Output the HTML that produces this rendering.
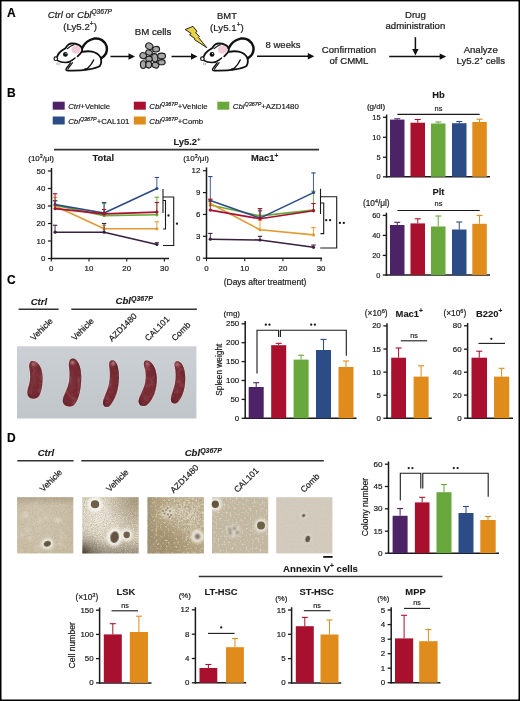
<!DOCTYPE html>
<html><head><meta charset="utf-8"><title>Figure</title>
<style>
html,body{margin:0;padding:0;background:#fff;}
body{width:520px;height:701px;overflow:hidden;}
svg{display:block;font-family:"Liberation Sans",sans-serif;will-change:transform;}
</style></head><body>
<svg width="520" height="701" viewBox="0 0 520 701">

<defs>
<linearGradient id="spg" x1="0" y1="0" x2="0" y2="1"><stop offset="0" stop-color="#d2d6da"/><stop offset="1" stop-color="#bcc1c6"/></linearGradient>
<radialGradient id="splg" cx="0.45" cy="0.5" r="0.6"><stop offset="0" stop-color="#8c5058" stop-opacity="0.35"/><stop offset="0.6" stop-color="#6a2a32" stop-opacity="0"/><stop offset="1" stop-color="#3e1a20" stop-opacity="0.55"/></radialGradient>
<radialGradient id="vig2" cx="0" cy="1" r="0.42"><stop offset="0" stop-color="#2a2418" stop-opacity="0.8"/><stop offset="0.45" stop-color="#2a2418" stop-opacity="0.25"/><stop offset="1" stop-color="#2a2418" stop-opacity="0"/></radialGradient>
<linearGradient id="p2e" x1="0" y1="0" x2="0" y2="1"><stop offset="0.75" stop-color="#3a3020" stop-opacity="0"/><stop offset="1" stop-color="#3a3020" stop-opacity="0.35"/></linearGradient>
<radialGradient id="p2w" cx="0.3" cy="0.35" r="0.55"><stop offset="0" stop-color="#f4f0e8" stop-opacity="0.7"/><stop offset="1" stop-color="#f4f0e8" stop-opacity="0"/></radialGradient>
<radialGradient id="p1c" cx="0.4" cy="0.45" r="0.6"><stop offset="0" stop-color="#d8d0c0" stop-opacity="0.5"/><stop offset="1" stop-color="#d8d0c0" stop-opacity="0"/></radialGradient>
<radialGradient id="p3w" cx="0.72" cy="0.3" r="0.55"><stop offset="0" stop-color="#ece8de" stop-opacity="0.7"/><stop offset="0.6" stop-color="#ece8de" stop-opacity="0.3"/><stop offset="1" stop-color="#ece8de" stop-opacity="0"/></radialGradient>
<radialGradient id="p3d" cx="0.3" cy="0.85" r="0.55"><stop offset="0" stop-color="#7a6440" stop-opacity="0.5"/><stop offset="1" stop-color="#7a6440" stop-opacity="0"/></radialGradient>
<filter id="splN" x="0" y="0" width="1" height="1"><feTurbulence type="fractalNoise" baseFrequency="0.18" numOctaves="2" seed="23"/><feColorMatrix type="matrix" values="0 0 0 0 0.6  0 0 0 0 0.3  0 0 0 0 0.34  3 0 0 0 -1.4"/><feComposite in2="SourceGraphic" operator="in"/></filter>
<filter id="blur07" x="-50%" y="-50%" width="200%" height="200%"><feGaussianBlur stdDeviation="0.7"/></filter>
<filter id="blur03" x="-50%" y="-50%" width="200%" height="200%"><feGaussianBlur stdDeviation="0.4"/></filter>
<linearGradient id="p3l" x1="0" y1="0" x2="1" y2="0"><stop offset="0" stop-color="#8a8068" stop-opacity="0.5"/><stop offset="0.15" stop-color="#8a8068" stop-opacity="0"/></linearGradient>
<radialGradient id="vig2b" cx="0.95" cy="0.05" r="0.55"><stop offset="0" stop-color="#8a7858" stop-opacity="0.55"/><stop offset="1" stop-color="#8a7858" stop-opacity="0"/></radialGradient>
<linearGradient id="topdark" x1="0" y1="0" x2="0" y2="1"><stop offset="0" stop-color="#6a5e48" stop-opacity="0.25"/><stop offset="0.15" stop-color="#6a5e48" stop-opacity="0"/></linearGradient>
<radialGradient id="az" cx="0.8" cy="0.3" r="0.6"><stop offset="0" stop-color="#ece6da" stop-opacity="0.45"/><stop offset="1" stop-color="#ece6da" stop-opacity="0"/></radialGradient>
<filter id="soft" x="-20%" y="-20%" width="140%" height="140%"><feGaussianBlur stdDeviation="0.5"/></filter>
<filter id="blur05" x="-50%" y="-50%" width="200%" height="200%"><feGaussianBlur stdDeviation="0.8"/></filter>
<filter id="blur1" x="-50%" y="-50%" width="200%" height="200%"><feGaussianBlur stdDeviation="1.5"/></filter>
<filter id="speck0"><feTurbulence type="fractalNoise" baseFrequency="0.9" numOctaves="2" seed="3"/><feColorMatrix type="matrix" values="0 0 0 0 0.45  0 0 0 0 0.42  0 0 0 0 0.36  0 0 0 -1.2 0.6"/><feComposite in2="SourceGraphic" operator="in"/></filter>
<filter id="speck1"><feTurbulence type="fractalNoise" baseFrequency="1.2" numOctaves="2" seed="5"/><feColorMatrix type="matrix" values="0 0 0 0 0.3  0 0 0 0 0.28  0 0 0 0 0.22  0 0 0 -3 1.6"/><feComposite in2="SourceGraphic" operator="in"/></filter>
<filter id="speck2"><feTurbulence type="fractalNoise" baseFrequency="1.0" numOctaves="2" seed="7"/><feColorMatrix type="matrix" values="0 0 0 0 0.45  0 0 0 0 0.36  0 0 0 0 0.2  0 0 0 -3 1.6"/><feComposite in2="SourceGraphic" operator="in"/></filter>
<filter id="speck3"><feTurbulence type="fractalNoise" baseFrequency="1.1" numOctaves="2" seed="9"/><feColorMatrix type="matrix" values="0 0 0 0 0.4  0 0 0 0 0.37  0 0 0 0 0.3  0 0 0 -2.5 1.2"/><feComposite in2="SourceGraphic" operator="in"/></filter>
</defs>
<rect x="0" y="0" width="520" height="701" fill="#fff"/>
<text x="7.1" y="16.9" font-size="12" text-anchor="start" font-weight="bold" font-style="normal" fill="#000" stroke="#000" stroke-width="0.144" >A</text>
<text x="79.9" y="18.1" font-size="9.7" text-anchor="middle" font-weight="normal" font-style="normal" fill="#222" stroke="#222" stroke-width="0.233" ><tspan font-style="italic">Ctrl</tspan> or <tspan font-style="italic">Cbl</tspan><tspan font-style="italic" font-size="6.6" dy="-4">Q367P</tspan></text>
<text x="80.1" y="29.6" font-size="9.7" text-anchor="middle" font-weight="normal" font-style="normal" fill="#222" stroke="#222" stroke-width="0.233" >(Ly5.2<tspan font-size="6.6" dy="-3.5">+</tspan><tspan dy="3.5">)</tspan></text>
<text x="153" y="34.5" font-size="9.7" text-anchor="middle" font-weight="normal" font-style="normal" fill="#222" stroke="#222" stroke-width="0.233" >BM cells</text>
<text x="227" y="18.8" font-size="9.4" text-anchor="middle" font-weight="normal" font-style="normal" fill="#222" stroke="#222" stroke-width="0.226" >BMT</text>
<text x="226.9" y="30.8" font-size="9.7" text-anchor="middle" font-weight="normal" font-style="normal" fill="#222" stroke="#222" stroke-width="0.233" >(Ly5.1<tspan font-size="6.6" dy="-3.5">+</tspan><tspan dy="3.5">)</tspan></text>
<text x="283" y="48" font-size="9.5" text-anchor="middle" font-weight="normal" font-style="normal" fill="#222" stroke="#222" stroke-width="0.228" >8 weeks</text>
<text x="349" y="52.8" font-size="9.6" text-anchor="middle" font-weight="normal" font-style="normal" fill="#222" stroke="#222" stroke-width="0.23" >Confirmation</text>
<text x="349" y="64.2" font-size="9.6" text-anchor="middle" font-weight="normal" font-style="normal" fill="#222" stroke="#222" stroke-width="0.23" >of CMML</text>
<text x="415.4" y="18.2" font-size="9.6" text-anchor="middle" font-weight="normal" font-style="normal" fill="#222" stroke="#222" stroke-width="0.23" >Drug</text>
<text x="415.4" y="29.2" font-size="9.6" text-anchor="middle" font-weight="normal" font-style="normal" fill="#222" stroke="#222" stroke-width="0.23" >administration</text>
<text x="480.7" y="52.8" font-size="9.6" text-anchor="middle" font-weight="normal" font-style="normal" fill="#222" stroke="#222" stroke-width="0.23" >Analyze</text>
<text x="480.7" y="63.8" font-size="9.6" text-anchor="middle" font-weight="normal" font-style="normal" fill="#222" stroke="#222" stroke-width="0.23" >Ly5.2<tspan font-size="6" dy="-3.5">+</tspan><tspan dy="3.5"> cells</tspan></text>
<line x1="110.5" y1="56.5" x2="130" y2="56.5" stroke="#111" stroke-width="1.5" />
<path d="M128.5,53.3 L135,56.5 L128.5,59.7 Z" fill="#111" stroke="none" stroke-width="0" />
<line x1="171.5" y1="56.5" x2="192.5" y2="56.5" stroke="#111" stroke-width="1.5" />
<path d="M191.0,53.3 L197.5,56.5 L191.0,59.7 Z" fill="#111" stroke="none" stroke-width="0" />
<line x1="257" y1="56.3" x2="309.3" y2="56.3" stroke="#111" stroke-width="1.5" />
<path d="M307.8,53.099999999999994 L314.3,56.3 L307.8,59.5 Z" fill="#111" stroke="none" stroke-width="0" />
<line x1="389.2" y1="56.6" x2="441.2" y2="56.6" stroke="#111" stroke-width="1.5" />
<path d="M439.7,53.4 L446.2,56.6 L439.7,59.800000000000004 Z" fill="#111" stroke="none" stroke-width="0" />
<line x1="415.4" y1="37.2" x2="415.4" y2="50" stroke="#111" stroke-width="1.5" />
<path d="M412.2,49 L415.4,55.6 L418.6,49 Z" fill="#111" stroke="none" stroke-width="0" />
<g transform="translate(50,34)">
<path d="M5.8,23 C8,20 10,17.5 12,16.5 C14,15.5 15,15 16,13.5 C18,10.5 20.5,9.4 23,9.4 C27,9.5 30.5,11.5 31.8,14.5 L32.2,17.8 C36,17.2 40,17.2 42,17.6 C46,18.5 49,20.5 50.6,23.5 C51.6,26.5 51.4,29.5 49.9,31.9 C47,33.8 42,34.8 38.5,35.4 C34,36.2 26,36.9 18.2,36.6 C16.5,36.6 15.5,36 16,35 C17,33 19,31 20.6,28.9 C18,28.8 13,28.9 9.5,27.8 C7,27 5.3,25.5 5.8,23 Z" fill="#fff" stroke="none"/>
<path d="M32.2,14.1 C34,10 38,6 44,4.6 C50,3.5 55,7 56.7,12.5 C57.6,17 55.5,21.5 51.3,24.3" fill="none" stroke="#111" stroke-width="2.5" stroke-linecap="round"/>
<ellipse cx="26" cy="15.6" rx="4.6" ry="4" fill="#f0cad8"/>
<path d="M7.2,22.3 C8,20.5 9.5,18.3 11.5,16.8 C12.8,15.8 14,15.3 15.5,14.2 C16.5,12.5 17.5,11.2 18.9,10.3 C20,9.6 21,9.4 22.1,9.5 C24,9.4 26.5,9.9 28.7,10.9 C30,11.6 31,12.5 31.6,13.5 C32.3,14.8 32.4,16.5 31.6,17.8 C30.8,19.3 29.5,20.6 27.6,22.3" fill="none" stroke="#111" stroke-width="1.8" stroke-linecap="round" stroke-linejoin="round"/>
<path d="M17.5,14.7 C19.5,12.8 21.5,11.5 23.8,10.8" fill="none" stroke="#111" stroke-width="1.1" stroke-linecap="round"/>
<path d="M32.2,17.8 C36,17.2 40,17.2 42,17.6 C46,18.5 49,20.5 50.6,23.5 C51.6,26.5 51.4,29.5 49.9,31.9 C47,33.8 42,34.8 38.5,35.4 C34,36.2 26,36.9 18.2,36.6" fill="none" stroke="#111" stroke-width="1.8" stroke-linecap="round" stroke-linejoin="round"/>
<path d="M7.2,26.4 C9,27.5 12,28.5 15.4,28.6 C18,28.5 21,27.3 22.6,25.9 L25,24" fill="none" stroke="#111" stroke-width="1.5" stroke-linecap="round"/>
<path d="M20.6,28.9 C19,31 17,33.2 16,35 C15.6,36.2 16.6,36.8 18.2,36.6" fill="none" stroke="#111" stroke-width="1.4" stroke-linecap="round"/>
<path d="M22.6,28.7 C21,30.8 19,33.2 17.8,35.3" fill="none" stroke="#111" stroke-width="1.1" stroke-linecap="round"/>
<path d="M43.6,26 C42.3,29 40.3,31.6 38.6,33.2 C37.6,34.3 36.6,35.3 35.6,36" fill="none" stroke="#111" stroke-width="1.4" stroke-linecap="round"/>
<path d="M34,35.4 C35,34.2 36.5,34.2 37,35.2" fill="none" stroke="#111" stroke-width="1"/>
<circle cx="15.4" cy="20.4" r="2.4" fill="#111"/>
<circle cx="16" cy="19.6" r="0.6" fill="#fff"/>
<circle cx="5.8" cy="24.7" r="1.8" fill="#fff" stroke="#111" stroke-width="1.2"/>
<path d="M7.2,28.3 L7,31 M9,28.8 L9,31.2" stroke="#777" stroke-width="0.6"/>
</g>
<g transform="translate(196.6,34)">
<path d="M5.8,23 C8,20 10,17.5 12,16.5 C14,15.5 15,15 16,13.5 C18,10.5 20.5,9.4 23,9.4 C27,9.5 30.5,11.5 31.8,14.5 L32.2,17.8 C36,17.2 40,17.2 42,17.6 C46,18.5 49,20.5 50.6,23.5 C51.6,26.5 51.4,29.5 49.9,31.9 C47,33.8 42,34.8 38.5,35.4 C34,36.2 26,36.9 18.2,36.6 C16.5,36.6 15.5,36 16,35 C17,33 19,31 20.6,28.9 C18,28.8 13,28.9 9.5,27.8 C7,27 5.3,25.5 5.8,23 Z" fill="#fff" stroke="none"/>
<path d="M32.2,14.1 C34,10 38,6 44,4.6 C50,3.5 55,7 56.7,12.5 C57.6,17 55.5,21.5 51.3,24.3" fill="none" stroke="#111" stroke-width="2.5" stroke-linecap="round"/>
<ellipse cx="26" cy="15.6" rx="4.6" ry="4" fill="#f0cad8"/>
<path d="M7.2,22.3 C8,20.5 9.5,18.3 11.5,16.8 C12.8,15.8 14,15.3 15.5,14.2 C16.5,12.5 17.5,11.2 18.9,10.3 C20,9.6 21,9.4 22.1,9.5 C24,9.4 26.5,9.9 28.7,10.9 C30,11.6 31,12.5 31.6,13.5 C32.3,14.8 32.4,16.5 31.6,17.8 C30.8,19.3 29.5,20.6 27.6,22.3" fill="none" stroke="#111" stroke-width="1.8" stroke-linecap="round" stroke-linejoin="round"/>
<path d="M17.5,14.7 C19.5,12.8 21.5,11.5 23.8,10.8" fill="none" stroke="#111" stroke-width="1.1" stroke-linecap="round"/>
<path d="M32.2,17.8 C36,17.2 40,17.2 42,17.6 C46,18.5 49,20.5 50.6,23.5 C51.6,26.5 51.4,29.5 49.9,31.9 C47,33.8 42,34.8 38.5,35.4 C34,36.2 26,36.9 18.2,36.6" fill="none" stroke="#111" stroke-width="1.8" stroke-linecap="round" stroke-linejoin="round"/>
<path d="M7.2,26.4 C9,27.5 12,28.5 15.4,28.6 C18,28.5 21,27.3 22.6,25.9 L25,24" fill="none" stroke="#111" stroke-width="1.5" stroke-linecap="round"/>
<path d="M20.6,28.9 C19,31 17,33.2 16,35 C15.6,36.2 16.6,36.8 18.2,36.6" fill="none" stroke="#111" stroke-width="1.4" stroke-linecap="round"/>
<path d="M22.6,28.7 C21,30.8 19,33.2 17.8,35.3" fill="none" stroke="#111" stroke-width="1.1" stroke-linecap="round"/>
<path d="M43.6,26 C42.3,29 40.3,31.6 38.6,33.2 C37.6,34.3 36.6,35.3 35.6,36" fill="none" stroke="#111" stroke-width="1.4" stroke-linecap="round"/>
<path d="M34,35.4 C35,34.2 36.5,34.2 37,35.2" fill="none" stroke="#111" stroke-width="1"/>
<circle cx="15.4" cy="20.4" r="2.4" fill="#111"/>
<circle cx="16" cy="19.6" r="0.6" fill="#fff"/>
<circle cx="5.8" cy="24.7" r="1.8" fill="#fff" stroke="#111" stroke-width="1.2"/>
<path d="M7.2,28.3 L7,31 M9,28.8 L9,31.2" stroke="#777" stroke-width="0.6"/>
</g>
<path d="M185.2,29.5 L193,26.3 L197,31.5 L195.6,32.4 L199.3,36.4 L198.4,37.3 L206.8,47.7 L194.4,39.6 L195,38.7 L189.5,34.7 L191.2,33.5 Z" fill="#e8d24a" stroke="#111" stroke-width="0.9" stroke-linejoin="miter"/>
<ellipse cx="149.3" cy="46.2" rx="3.7" ry="3.1" transform="rotate(30 149.3 46.2)" fill="#a6a6a6" stroke="#1a1a1a" stroke-width="1.1"/>
<ellipse cx="156.1" cy="49.2" rx="3.5" ry="2.8" transform="rotate(-10 156.1 49.2)" fill="#a6a6a6" stroke="#1a1a1a" stroke-width="1.1"/>
<ellipse cx="149" cy="52.6" rx="3.4" ry="2.6" transform="rotate(20 149 52.6)" fill="#a6a6a6" stroke="#1a1a1a" stroke-width="1.1"/>
<ellipse cx="143.2" cy="55.7" rx="3.3" ry="3" transform="rotate(30 143.2 55.7)" fill="#a6a6a6" stroke="#1a1a1a" stroke-width="1.1"/>
<ellipse cx="154.8" cy="57.8" rx="3" ry="4.2" transform="rotate(-10 154.8 57.8)" fill="#a6a6a6" stroke="#1a1a1a" stroke-width="1.1"/>
<ellipse cx="161.6" cy="56" rx="3.9" ry="2.9" transform="rotate(0 161.6 56)" fill="#a6a6a6" stroke="#1a1a1a" stroke-width="1.1"/>
<ellipse cx="149" cy="59.1" rx="3.2" ry="2.8" transform="rotate(0 149 59.1)" fill="#a6a6a6" stroke="#1a1a1a" stroke-width="1.1"/>
<ellipse cx="143.2" cy="64.6" rx="2.8" ry="3.9" transform="rotate(0 143.2 64.6)" fill="#a6a6a6" stroke="#1a1a1a" stroke-width="1.1"/>
<ellipse cx="148.7" cy="64.6" rx="2.9" ry="3.5" transform="rotate(0 148.7 64.6)" fill="#a6a6a6" stroke="#1a1a1a" stroke-width="1.1"/>
<ellipse cx="155.5" cy="65.2" rx="3.4" ry="2.8" transform="rotate(20 155.5 65.2)" fill="#a6a6a6" stroke="#1a1a1a" stroke-width="1.1"/>
<ellipse cx="161.6" cy="62.2" rx="3.6" ry="2.6" transform="rotate(0 161.6 62.2)" fill="#a6a6a6" stroke="#1a1a1a" stroke-width="1.1"/>
<text x="7.1" y="97.4" font-size="12" text-anchor="start" font-weight="bold" font-style="normal" fill="#000" stroke="#000" stroke-width="0.144" >B</text>
<rect x="52.7" y="101.7" width="12" height="8" fill="#4e2266" />
<text x="68.2" y="108.9" font-size="7.8" text-anchor="start" font-weight="normal" font-style="normal" fill="#1a1a1a" stroke="#1a1a1a" stroke-width="0.187" ><tspan font-style="italic">Ctrl</tspan>+Vehicle</text>
<rect x="133.8" y="101.7" width="12" height="8" fill="#a8102e" />
<text x="149.3" y="108.9" font-size="7.8" text-anchor="start" font-weight="normal" font-style="normal" fill="#1a1a1a" stroke="#1a1a1a" stroke-width="0.187" ><tspan font-style="italic">Cbl</tspan><tspan font-style="italic" font-size="5.4" dy="-3">Q367P</tspan><tspan dy="3">+Vehicle</tspan></text>
<rect x="217.3" y="101.7" width="12" height="8" fill="#68a83c" />
<text x="232.8" y="108.9" font-size="7.8" text-anchor="start" font-weight="normal" font-style="normal" fill="#1a1a1a" stroke="#1a1a1a" stroke-width="0.187" ><tspan font-style="italic">Cbl</tspan><tspan font-style="italic" font-size="5.4" dy="-3">Q367P</tspan><tspan dy="3">+AZD1480</tspan></text>
<rect x="52.7" y="116.5" width="12" height="8" fill="#2b4c84" />
<text x="68.2" y="123.7" font-size="7.8" text-anchor="start" font-weight="normal" font-style="normal" fill="#1a1a1a" stroke="#1a1a1a" stroke-width="0.187" ><tspan font-style="italic">Cbl</tspan><tspan font-style="italic" font-size="5.4" dy="-3">Q367P</tspan><tspan dy="3">+CAL101</tspan></text>
<rect x="133.8" y="116.5" width="12" height="8" fill="#e08c1c" />
<text x="149.3" y="123.7" font-size="7.8" text-anchor="start" font-weight="normal" font-style="normal" fill="#1a1a1a" stroke="#1a1a1a" stroke-width="0.187" ><tspan font-style="italic">Cbl</tspan><tspan font-style="italic" font-size="5.4" dy="-3">Q367P</tspan><tspan dy="3">+Comb</tspan></text>
<text x="187" y="144.6" font-size="9.4" text-anchor="middle" font-weight="bold" font-style="normal" fill="#1a1a1a" stroke="#1a1a1a" stroke-width="0.113" >Ly5.2<tspan font-size="6" dy="-3.5">+</tspan></text>
<line x1="54" y1="149.7" x2="319" y2="149.7" stroke="#333" stroke-width="1.8" />
<text x="103.3" y="161" font-size="9.4" text-anchor="middle" font-weight="bold" font-style="normal" fill="#1a1a1a" stroke="#1a1a1a" stroke-width="0.113" >Total</text>
<text x="264.6" y="161" font-size="9.4" text-anchor="middle" font-weight="bold" font-style="normal" fill="#1a1a1a" stroke="#1a1a1a" stroke-width="0.113" >Mac1<tspan font-size="6.6" dy="-3.5">+</tspan></text>
<text x="41.1" y="161.3" font-size="8" text-anchor="middle" font-weight="normal" font-style="normal" fill="#1a1a1a" stroke="#1a1a1a" stroke-width="0.192" >(10<tspan font-size="5.2" dy="-3">3</tspan><tspan dy="3">/μl)</tspan></text>
<text x="196" y="161.3" font-size="8" text-anchor="middle" font-weight="normal" font-style="normal" fill="#1a1a1a" stroke="#1a1a1a" stroke-width="0.192" >(10<tspan font-size="5.2" dy="-3">3</tspan><tspan dy="3">/μl)</tspan></text>
<line x1="51.5" y1="168" x2="51.5" y2="259.2" stroke="#1a1a1a" stroke-width="1.5" />
<line x1="50.8" y1="258.5" x2="169" y2="258.5" stroke="#1a1a1a" stroke-width="1.5" />
<line x1="47.9" y1="258.5" x2="51.5" y2="258.5" stroke="#1a1a1a" stroke-width="1.2" />
<text x="45.3" y="261.2" font-size="7.9" text-anchor="end" font-weight="normal" font-style="normal" fill="#1a1a1a" stroke="#1a1a1a" stroke-width="0.19" >0</text>
<line x1="47.9" y1="241.0" x2="51.5" y2="241.0" stroke="#1a1a1a" stroke-width="1.2" />
<text x="45.3" y="243.7" font-size="7.9" text-anchor="end" font-weight="normal" font-style="normal" fill="#1a1a1a" stroke="#1a1a1a" stroke-width="0.19" >10</text>
<line x1="47.9" y1="223.5" x2="51.5" y2="223.5" stroke="#1a1a1a" stroke-width="1.2" />
<text x="45.3" y="226.2" font-size="7.9" text-anchor="end" font-weight="normal" font-style="normal" fill="#1a1a1a" stroke="#1a1a1a" stroke-width="0.19" >20</text>
<line x1="47.9" y1="206.0" x2="51.5" y2="206.0" stroke="#1a1a1a" stroke-width="1.2" />
<text x="45.3" y="208.7" font-size="7.9" text-anchor="end" font-weight="normal" font-style="normal" fill="#1a1a1a" stroke="#1a1a1a" stroke-width="0.19" >30</text>
<line x1="47.9" y1="188.5" x2="51.5" y2="188.5" stroke="#1a1a1a" stroke-width="1.2" />
<text x="45.3" y="191.2" font-size="7.9" text-anchor="end" font-weight="normal" font-style="normal" fill="#1a1a1a" stroke="#1a1a1a" stroke-width="0.19" >40</text>
<line x1="47.9" y1="171.0" x2="51.5" y2="171.0" stroke="#1a1a1a" stroke-width="1.2" />
<text x="45.3" y="173.7" font-size="7.9" text-anchor="end" font-weight="normal" font-style="normal" fill="#1a1a1a" stroke="#1a1a1a" stroke-width="0.19" >50</text>
<line x1="51.3" y1="258.5" x2="51.3" y2="261.5" stroke="#1a1a1a" stroke-width="1.1" />
<text x="51.3" y="271.4" font-size="7.9" text-anchor="middle" font-weight="normal" font-style="normal" fill="#1a1a1a" stroke="#1a1a1a" stroke-width="0.19" >0</text>
<line x1="89.0" y1="258.5" x2="89.0" y2="261.5" stroke="#1a1a1a" stroke-width="1.1" />
<text x="89.0" y="271.4" font-size="7.9" text-anchor="middle" font-weight="normal" font-style="normal" fill="#1a1a1a" stroke="#1a1a1a" stroke-width="0.19" >10</text>
<line x1="126.7" y1="258.5" x2="126.7" y2="261.5" stroke="#1a1a1a" stroke-width="1.1" />
<text x="126.7" y="271.4" font-size="7.9" text-anchor="middle" font-weight="normal" font-style="normal" fill="#1a1a1a" stroke="#1a1a1a" stroke-width="0.19" >20</text>
<line x1="164.39999999999998" y1="258.5" x2="164.39999999999998" y2="261.5" stroke="#1a1a1a" stroke-width="1.1" />
<text x="164.39999999999998" y="271.4" font-size="7.9" text-anchor="middle" font-weight="normal" font-style="normal" fill="#1a1a1a" stroke="#1a1a1a" stroke-width="0.19" >30</text>
<line x1="55.07" y1="200.75" x2="55.07" y2="205.125" stroke="#68a83c" stroke-width="0.9" />
<line x1="52.87" y1="200.75" x2="57.27" y2="200.75" stroke="#68a83c" stroke-width="1.1" />
<line x1="104.08" y1="203.375" x2="104.08" y2="215.625" stroke="#68a83c" stroke-width="0.9" />
<line x1="101.88" y1="203.375" x2="106.28" y2="203.375" stroke="#68a83c" stroke-width="1.1" />
<line x1="156.86" y1="197.25" x2="156.86" y2="214.75" stroke="#68a83c" stroke-width="0.9" />
<line x1="154.66000000000003" y1="197.25" x2="159.06" y2="197.25" stroke="#68a83c" stroke-width="1.1" />
<path d="M55.1,205.1 L104.1,215.6 L156.9,214.8" fill="none" stroke="#68a83c" stroke-width="1.6" stroke-linejoin="round"/>
<circle cx="55.1" cy="205.1" r="1.6" fill="#68a83c"/>
<circle cx="104.1" cy="215.6" r="1.6" fill="#68a83c"/>
<circle cx="156.9" cy="214.8" r="1.6" fill="#68a83c"/>
<line x1="55.07" y1="197.25" x2="55.07" y2="206.0" stroke="#e39a30" stroke-width="0.9" />
<line x1="52.87" y1="197.25" x2="57.27" y2="197.25" stroke="#e39a30" stroke-width="1.1" />
<line x1="104.08" y1="225.25" x2="104.08" y2="228.75" stroke="#e39a30" stroke-width="0.9" />
<line x1="101.88" y1="225.25" x2="106.28" y2="225.25" stroke="#e39a30" stroke-width="1.1" />
<line x1="156.86" y1="221.75" x2="156.86" y2="228.75" stroke="#e39a30" stroke-width="0.9" />
<line x1="154.66000000000003" y1="221.75" x2="159.06" y2="221.75" stroke="#e39a30" stroke-width="1.1" />
<path d="M55.1,206.0 L104.1,228.8 L156.9,228.8" fill="none" stroke="#e39a30" stroke-width="1.6" stroke-linejoin="round"/>
<circle cx="55.1" cy="206.0" r="1.6" fill="#e39a30"/>
<circle cx="104.1" cy="228.8" r="1.6" fill="#e39a30"/>
<circle cx="156.9" cy="228.8" r="1.6" fill="#e39a30"/>
<line x1="55.07" y1="200.75" x2="55.07" y2="204.6" stroke="#2b4c84" stroke-width="0.9" />
<line x1="52.87" y1="200.75" x2="57.27" y2="200.75" stroke="#2b4c84" stroke-width="1.1" />
<line x1="104.08" y1="202.5" x2="104.08" y2="213.0" stroke="#2b4c84" stroke-width="0.9" />
<line x1="101.88" y1="202.5" x2="106.28" y2="202.5" stroke="#2b4c84" stroke-width="1.1" />
<line x1="156.86" y1="177.47500000000002" x2="156.86" y2="188.5" stroke="#2b4c84" stroke-width="0.9" />
<line x1="154.66000000000003" y1="177.47500000000002" x2="159.06" y2="177.47500000000002" stroke="#2b4c84" stroke-width="1.1" />
<path d="M55.1,204.6 L104.1,213.0 L156.9,188.5" fill="none" stroke="#2b4c84" stroke-width="1.6" stroke-linejoin="round"/>
<circle cx="55.1" cy="204.6" r="1.6" fill="#2b4c84"/>
<circle cx="104.1" cy="213.0" r="1.6" fill="#2b4c84"/>
<circle cx="156.9" cy="188.5" r="1.6" fill="#2b4c84"/>
<line x1="55.07" y1="193.75" x2="55.07" y2="208.625" stroke="#a8102e" stroke-width="0.9" />
<line x1="52.87" y1="193.75" x2="57.27" y2="193.75" stroke="#a8102e" stroke-width="1.1" />
<line x1="104.08" y1="209.5" x2="104.08" y2="213.875" stroke="#a8102e" stroke-width="0.9" />
<line x1="101.88" y1="209.5" x2="106.28" y2="209.5" stroke="#a8102e" stroke-width="1.1" />
<line x1="156.86" y1="202.5" x2="156.86" y2="212.125" stroke="#a8102e" stroke-width="0.9" />
<line x1="154.66000000000003" y1="202.5" x2="159.06" y2="202.5" stroke="#a8102e" stroke-width="1.1" />
<path d="M55.1,208.6 L104.1,213.9 L156.9,212.1" fill="none" stroke="#a8102e" stroke-width="1.6" stroke-linejoin="round"/>
<circle cx="55.1" cy="208.6" r="1.6" fill="#a8102e"/>
<circle cx="104.1" cy="213.9" r="1.6" fill="#a8102e"/>
<circle cx="156.9" cy="212.1" r="1.6" fill="#a8102e"/>
<line x1="55.07" y1="225.25" x2="55.07" y2="232.25" stroke="#38203f" stroke-width="0.9" />
<line x1="52.87" y1="225.25" x2="57.27" y2="225.25" stroke="#38203f" stroke-width="1.1" />
<line x1="104.08" y1="223.5" x2="104.08" y2="232.25" stroke="#38203f" stroke-width="0.9" />
<line x1="101.88" y1="223.5" x2="106.28" y2="223.5" stroke="#38203f" stroke-width="1.1" />
<line x1="156.86" y1="242.75" x2="156.86" y2="244.5" stroke="#38203f" stroke-width="0.9" />
<line x1="154.66000000000003" y1="242.75" x2="159.06" y2="242.75" stroke="#38203f" stroke-width="1.1" />
<path d="M55.1,232.2 L104.1,232.2 L156.9,244.5" fill="none" stroke="#38203f" stroke-width="1.6" stroke-linejoin="round"/>
<circle cx="55.1" cy="232.2" r="1.6" fill="#38203f"/>
<circle cx="104.1" cy="232.2" r="1.6" fill="#38203f"/>
<circle cx="156.9" cy="244.5" r="1.6" fill="#38203f"/>
<line x1="163" y1="189" x2="163" y2="213" stroke="#1a1a1a" stroke-width="1.1" />
<path d="M163,200.5 L165.5,200.5 L165.5,229 L163,229" fill="none" stroke="#1a1a1a" stroke-width="1.1" />
<path d="M163,197 L173.7,197 L173.7,245.5 L163,245.5" fill="none" stroke="#1a1a1a" stroke-width="1.1" />
<circle cx="168.5" cy="215.5" r="1.15" fill="#1a1a1a"/>
<circle cx="177" cy="223.7" r="1.15" fill="#1a1a1a"/>
<line x1="206.5" y1="167.4" x2="206.5" y2="258.9" stroke="#1a1a1a" stroke-width="1.5" />
<line x1="205.8" y1="258.2" x2="322" y2="258.2" stroke="#1a1a1a" stroke-width="1.5" />
<line x1="202.9" y1="258.2" x2="206.5" y2="258.2" stroke="#1a1a1a" stroke-width="1.2" />
<text x="200.3" y="260.9" font-size="7.9" text-anchor="end" font-weight="normal" font-style="normal" fill="#1a1a1a" stroke="#1a1a1a" stroke-width="0.19" >0</text>
<line x1="202.9" y1="236.32999999999998" x2="206.5" y2="236.32999999999998" stroke="#1a1a1a" stroke-width="1.2" />
<text x="200.3" y="239.02999999999997" font-size="7.9" text-anchor="end" font-weight="normal" font-style="normal" fill="#1a1a1a" stroke="#1a1a1a" stroke-width="0.19" >3</text>
<line x1="202.9" y1="214.45999999999998" x2="206.5" y2="214.45999999999998" stroke="#1a1a1a" stroke-width="1.2" />
<text x="200.3" y="217.15999999999997" font-size="7.9" text-anchor="end" font-weight="normal" font-style="normal" fill="#1a1a1a" stroke="#1a1a1a" stroke-width="0.19" >6</text>
<line x1="202.9" y1="192.58999999999997" x2="206.5" y2="192.58999999999997" stroke="#1a1a1a" stroke-width="1.2" />
<text x="200.3" y="195.28999999999996" font-size="7.9" text-anchor="end" font-weight="normal" font-style="normal" fill="#1a1a1a" stroke="#1a1a1a" stroke-width="0.19" >9</text>
<line x1="202.9" y1="170.71999999999997" x2="206.5" y2="170.71999999999997" stroke="#1a1a1a" stroke-width="1.2" />
<text x="200.3" y="173.41999999999996" font-size="7.9" text-anchor="end" font-weight="normal" font-style="normal" fill="#1a1a1a" stroke="#1a1a1a" stroke-width="0.19" >12</text>
<line x1="206.5" y1="258.2" x2="206.5" y2="261.2" stroke="#1a1a1a" stroke-width="1.1" />
<text x="206.5" y="271.09999999999997" font-size="7.9" text-anchor="middle" font-weight="normal" font-style="normal" fill="#1a1a1a" stroke="#1a1a1a" stroke-width="0.19" >0</text>
<line x1="244.7" y1="258.2" x2="244.7" y2="261.2" stroke="#1a1a1a" stroke-width="1.1" />
<text x="244.7" y="271.09999999999997" font-size="7.9" text-anchor="middle" font-weight="normal" font-style="normal" fill="#1a1a1a" stroke="#1a1a1a" stroke-width="0.19" >10</text>
<line x1="282.9" y1="258.2" x2="282.9" y2="261.2" stroke="#1a1a1a" stroke-width="1.1" />
<text x="282.9" y="271.09999999999997" font-size="7.9" text-anchor="middle" font-weight="normal" font-style="normal" fill="#1a1a1a" stroke="#1a1a1a" stroke-width="0.19" >20</text>
<line x1="321.1" y1="258.2" x2="321.1" y2="261.2" stroke="#1a1a1a" stroke-width="1.1" />
<text x="321.1" y="271.09999999999997" font-size="7.9" text-anchor="middle" font-weight="normal" font-style="normal" fill="#1a1a1a" stroke="#1a1a1a" stroke-width="0.19" >30</text>
<line x1="210.32" y1="201.338" x2="210.32" y2="204.983" stroke="#68a83c" stroke-width="0.9" />
<line x1="208.12" y1="201.338" x2="212.51999999999998" y2="201.338" stroke="#68a83c" stroke-width="1.1" />
<line x1="259.98" y1="208.628" x2="259.98" y2="215.918" stroke="#68a83c" stroke-width="0.9" />
<line x1="257.78000000000003" y1="208.628" x2="262.18" y2="208.628" stroke="#68a83c" stroke-width="1.1" />
<line x1="313.46" y1="191.132" x2="313.46" y2="210.08599999999998" stroke="#68a83c" stroke-width="0.9" />
<line x1="311.26" y1="191.132" x2="315.65999999999997" y2="191.132" stroke="#68a83c" stroke-width="1.1" />
<path d="M210.3,205.0 L260.0,215.9 L313.5,210.1" fill="none" stroke="#68a83c" stroke-width="1.6" stroke-linejoin="round"/>
<circle cx="210.3" cy="205.0" r="1.6" fill="#68a83c"/>
<circle cx="260.0" cy="215.9" r="1.6" fill="#68a83c"/>
<circle cx="313.5" cy="210.1" r="1.6" fill="#68a83c"/>
<line x1="210.32" y1="199.88" x2="210.32" y2="203.52499999999998" stroke="#e39a30" stroke-width="0.9" />
<line x1="208.12" y1="199.88" x2="212.51999999999998" y2="199.88" stroke="#e39a30" stroke-width="1.1" />
<line x1="259.98" y1="220.29199999999997" x2="259.98" y2="229.76899999999998" stroke="#e39a30" stroke-width="0.9" />
<line x1="257.78000000000003" y1="220.29199999999997" x2="262.18" y2="220.29199999999997" stroke="#e39a30" stroke-width="1.1" />
<line x1="313.46" y1="227.582" x2="313.46" y2="234.87199999999999" stroke="#e39a30" stroke-width="0.9" />
<line x1="311.26" y1="227.582" x2="315.65999999999997" y2="227.582" stroke="#e39a30" stroke-width="1.1" />
<path d="M210.3,203.5 L260.0,229.8 L313.5,234.9" fill="none" stroke="#e39a30" stroke-width="1.6" stroke-linejoin="round"/>
<circle cx="210.3" cy="203.5" r="1.6" fill="#e39a30"/>
<circle cx="260.0" cy="229.8" r="1.6" fill="#e39a30"/>
<circle cx="313.5" cy="234.9" r="1.6" fill="#e39a30"/>
<line x1="210.32" y1="176.552" x2="210.32" y2="200.60899999999998" stroke="#2b4c84" stroke-width="0.9" />
<line x1="208.12" y1="176.552" x2="212.51999999999998" y2="176.552" stroke="#2b4c84" stroke-width="1.1" />
<line x1="259.98" y1="210.815" x2="259.98" y2="218.105" stroke="#2b4c84" stroke-width="0.9" />
<line x1="257.78000000000003" y1="210.815" x2="262.18" y2="210.815" stroke="#2b4c84" stroke-width="1.1" />
<line x1="313.46" y1="172.90699999999998" x2="313.46" y2="192.58999999999997" stroke="#2b4c84" stroke-width="0.9" />
<line x1="311.26" y1="172.90699999999998" x2="315.65999999999997" y2="172.90699999999998" stroke="#2b4c84" stroke-width="1.1" />
<path d="M210.3,200.6 L260.0,218.1 L313.5,192.6" fill="none" stroke="#2b4c84" stroke-width="1.6" stroke-linejoin="round"/>
<circle cx="210.3" cy="200.6" r="1.6" fill="#2b4c84"/>
<circle cx="260.0" cy="218.1" r="1.6" fill="#2b4c84"/>
<circle cx="313.5" cy="192.6" r="1.6" fill="#2b4c84"/>
<line x1="210.32" y1="199.15099999999998" x2="210.32" y2="210.08599999999998" stroke="#a8102e" stroke-width="0.9" />
<line x1="208.12" y1="199.15099999999998" x2="212.51999999999998" y2="199.15099999999998" stroke="#a8102e" stroke-width="1.1" />
<line x1="259.98" y1="208.628" x2="259.98" y2="218.834" stroke="#a8102e" stroke-width="0.9" />
<line x1="257.78000000000003" y1="208.628" x2="262.18" y2="208.628" stroke="#a8102e" stroke-width="1.1" />
<line x1="313.46" y1="203.52499999999998" x2="313.46" y2="210.815" stroke="#a8102e" stroke-width="0.9" />
<line x1="311.26" y1="203.52499999999998" x2="315.65999999999997" y2="203.52499999999998" stroke="#a8102e" stroke-width="1.1" />
<path d="M210.3,210.1 L260.0,218.8 L313.5,210.8" fill="none" stroke="#a8102e" stroke-width="1.6" stroke-linejoin="round"/>
<circle cx="210.3" cy="210.1" r="1.6" fill="#a8102e"/>
<circle cx="260.0" cy="218.8" r="1.6" fill="#a8102e"/>
<circle cx="313.5" cy="210.8" r="1.6" fill="#a8102e"/>
<line x1="210.32" y1="233.414" x2="210.32" y2="239.24599999999998" stroke="#38203f" stroke-width="0.9" />
<line x1="208.12" y1="233.414" x2="212.51999999999998" y2="233.414" stroke="#38203f" stroke-width="1.1" />
<line x1="259.98" y1="236.32999999999998" x2="259.98" y2="239.975" stroke="#38203f" stroke-width="0.9" />
<line x1="257.78000000000003" y1="236.32999999999998" x2="262.18" y2="236.32999999999998" stroke="#38203f" stroke-width="1.1" />
<line x1="313.46" y1="245.07799999999997" x2="313.46" y2="247.265" stroke="#38203f" stroke-width="0.9" />
<line x1="311.26" y1="245.07799999999997" x2="315.65999999999997" y2="245.07799999999997" stroke="#38203f" stroke-width="1.1" />
<path d="M210.3,239.2 L260.0,240.0 L313.5,247.3" fill="none" stroke="#38203f" stroke-width="1.6" stroke-linejoin="round"/>
<circle cx="210.3" cy="239.2" r="1.6" fill="#38203f"/>
<circle cx="260.0" cy="240.0" r="1.6" fill="#38203f"/>
<circle cx="313.5" cy="247.3" r="1.6" fill="#38203f"/>
<line x1="320.5" y1="188.7" x2="320.5" y2="214" stroke="#1a1a1a" stroke-width="1.1" />
<path d="M320.5,203 L323.7,203 L323.7,233.6 L320.5,233.6" fill="none" stroke="#1a1a1a" stroke-width="1.1" />
<path d="M320.5,196.7 L336.7,196.7 L336.7,248 L320.2,248" fill="none" stroke="#1a1a1a" stroke-width="1.1" />
<circle cx="326.2" cy="220.2" r="1.15" fill="#1a1a1a"/>
<circle cx="330.1" cy="220.2" r="1.15" fill="#1a1a1a"/>
<circle cx="339.9" cy="222.9" r="1.15" fill="#1a1a1a"/>
<circle cx="343.8" cy="222.9" r="1.15" fill="#1a1a1a"/>
<text x="265" y="284.8" font-size="8.5" text-anchor="middle" font-weight="normal" font-style="normal" fill="#1a1a1a" stroke="#1a1a1a" stroke-width="0.204" >(Days after treatment)</text>
<text x="438.5" y="98.2" font-size="9.4" text-anchor="middle" font-weight="bold" font-style="normal" fill="#1a1a1a" stroke="#1a1a1a" stroke-width="0.113" >Hb</text>
<text x="376" y="109.2" font-size="8" text-anchor="middle" font-weight="normal" font-style="normal" fill="#1a1a1a" stroke="#1a1a1a" stroke-width="0.192" >(g/dl)</text>
<line x1="397.4" y1="114.4" x2="479.7" y2="114.4" stroke="#1a1a1a" stroke-width="1.1" />
<text x="438.5" y="110.8" font-size="7.4" text-anchor="middle" font-weight="normal" font-style="normal" fill="#1a1a1a" stroke="#1a1a1a" stroke-width="0.178" >ns</text>
<line x1="386.6" y1="114.6" x2="386.6" y2="177.5" stroke="#1a1a1a" stroke-width="1.5" />
<line x1="385.90000000000003" y1="176.8" x2="490" y2="176.8" stroke="#1a1a1a" stroke-width="1.5" />
<line x1="383.0" y1="176.8" x2="386.6" y2="176.8" stroke="#1a1a1a" stroke-width="1.3" />
<text x="380.6" y="179.3" font-size="7.4" text-anchor="end" font-weight="normal" font-style="normal" fill="#1a1a1a" stroke="#1a1a1a" stroke-width="0.178" >0</text>
<line x1="383.0" y1="157.3" x2="386.6" y2="157.3" stroke="#1a1a1a" stroke-width="1.3" />
<text x="380.6" y="159.8" font-size="7.4" text-anchor="end" font-weight="normal" font-style="normal" fill="#1a1a1a" stroke="#1a1a1a" stroke-width="0.178" >5</text>
<line x1="383.0" y1="137.3" x2="386.6" y2="137.3" stroke="#1a1a1a" stroke-width="1.3" />
<text x="380.6" y="139.8" font-size="7.4" text-anchor="end" font-weight="normal" font-style="normal" fill="#1a1a1a" stroke="#1a1a1a" stroke-width="0.178" >10</text>
<line x1="383.0" y1="117.3" x2="386.6" y2="117.3" stroke="#1a1a1a" stroke-width="1.3" />
<text x="380.6" y="119.8" font-size="7.4" text-anchor="end" font-weight="normal" font-style="normal" fill="#1a1a1a" stroke="#1a1a1a" stroke-width="0.178" >15</text>
<rect x="390" y="119.6" width="14.5" height="57.20000000000002" fill="#4e2266" />
<line x1="397.25" y1="118.8" x2="397.25" y2="119.6" stroke="#4e2266" stroke-width="1" />
<line x1="394.25" y1="118.8" x2="400.25" y2="118.8" stroke="#4e2266" stroke-width="1.1" />
<rect x="410.5" y="122.7" width="14.5" height="54.10000000000001" fill="#a8102e" />
<line x1="417.75" y1="119.5" x2="417.75" y2="122.7" stroke="#a8102e" stroke-width="1" />
<line x1="414.75" y1="119.5" x2="420.75" y2="119.5" stroke="#a8102e" stroke-width="1.1" />
<rect x="431" y="123.5" width="14.5" height="53.30000000000001" fill="#68a83c" />
<line x1="438.25" y1="122" x2="438.25" y2="123.5" stroke="#68a83c" stroke-width="1" />
<line x1="435.25" y1="122" x2="441.25" y2="122" stroke="#68a83c" stroke-width="1.1" />
<rect x="452" y="123.2" width="14.5" height="53.60000000000001" fill="#2b4c84" />
<line x1="459.25" y1="121.5" x2="459.25" y2="123.2" stroke="#2b4c84" stroke-width="1" />
<line x1="456.25" y1="121.5" x2="462.25" y2="121.5" stroke="#2b4c84" stroke-width="1.1" />
<rect x="472.3" y="122" width="14.5" height="54.80000000000001" fill="#e08c1c" />
<line x1="479.55" y1="119.2" x2="479.55" y2="122" stroke="#e08c1c" stroke-width="1" />
<line x1="476.55" y1="119.2" x2="482.55" y2="119.2" stroke="#e08c1c" stroke-width="1.1" />
<text x="438.5" y="195" font-size="9.4" text-anchor="middle" font-weight="bold" font-style="normal" fill="#1a1a1a" stroke="#1a1a1a" stroke-width="0.113" >Plt</text>
<text x="376.3" y="205.6" font-size="8.3" text-anchor="middle" font-weight="normal" font-style="normal" fill="#1a1a1a" stroke="#1a1a1a" stroke-width="0.199" >(10<tspan font-size="5.4" dy="-3">4</tspan><tspan dy="3">/μl)</tspan></text>
<line x1="397.4" y1="210.5" x2="479.7" y2="210.5" stroke="#1a1a1a" stroke-width="1.1" />
<text x="438.5" y="206.3" font-size="7.4" text-anchor="middle" font-weight="normal" font-style="normal" fill="#1a1a1a" stroke="#1a1a1a" stroke-width="0.178" >ns</text>
<line x1="386.4" y1="212.70000000000002" x2="386.4" y2="275.7" stroke="#1a1a1a" stroke-width="1.5" />
<line x1="385.7" y1="275" x2="490" y2="275" stroke="#1a1a1a" stroke-width="1.5" />
<line x1="382.79999999999995" y1="275" x2="386.4" y2="275" stroke="#1a1a1a" stroke-width="1.3" />
<text x="380.4" y="277.5" font-size="7.4" text-anchor="end" font-weight="normal" font-style="normal" fill="#1a1a1a" stroke="#1a1a1a" stroke-width="0.178" >0</text>
<line x1="382.79999999999995" y1="255.4" x2="386.4" y2="255.4" stroke="#1a1a1a" stroke-width="1.3" />
<text x="380.4" y="257.9" font-size="7.4" text-anchor="end" font-weight="normal" font-style="normal" fill="#1a1a1a" stroke="#1a1a1a" stroke-width="0.178" >20</text>
<line x1="382.79999999999995" y1="235.4" x2="386.4" y2="235.4" stroke="#1a1a1a" stroke-width="1.3" />
<text x="380.4" y="237.9" font-size="7.4" text-anchor="end" font-weight="normal" font-style="normal" fill="#1a1a1a" stroke="#1a1a1a" stroke-width="0.178" >40</text>
<line x1="382.79999999999995" y1="215.4" x2="386.4" y2="215.4" stroke="#1a1a1a" stroke-width="1.3" />
<text x="380.4" y="217.9" font-size="7.4" text-anchor="end" font-weight="normal" font-style="normal" fill="#1a1a1a" stroke="#1a1a1a" stroke-width="0.178" >60</text>
<rect x="390" y="225" width="14.5" height="50" fill="#4e2266" />
<line x1="397.25" y1="222.3" x2="397.25" y2="225" stroke="#4e2266" stroke-width="1" />
<line x1="394.25" y1="222.3" x2="400.25" y2="222.3" stroke="#4e2266" stroke-width="1.1" />
<rect x="410.5" y="223.4" width="14.5" height="51.599999999999994" fill="#a8102e" />
<line x1="417.75" y1="218.8" x2="417.75" y2="223.4" stroke="#a8102e" stroke-width="1" />
<line x1="414.75" y1="218.8" x2="420.75" y2="218.8" stroke="#a8102e" stroke-width="1.1" />
<rect x="431" y="226.5" width="14.5" height="48.5" fill="#68a83c" />
<line x1="438.25" y1="216" x2="438.25" y2="226.5" stroke="#68a83c" stroke-width="1" />
<line x1="435.25" y1="216" x2="441.25" y2="216" stroke="#68a83c" stroke-width="1.1" />
<rect x="452" y="229.5" width="14.5" height="45.5" fill="#2b4c84" />
<line x1="459.25" y1="222" x2="459.25" y2="229.5" stroke="#2b4c84" stroke-width="1" />
<line x1="456.25" y1="222" x2="462.25" y2="222" stroke="#2b4c84" stroke-width="1.1" />
<rect x="472.3" y="223.8" width="14.5" height="51.19999999999999" fill="#e08c1c" />
<line x1="479.55" y1="215.4" x2="479.55" y2="223.8" stroke="#e08c1c" stroke-width="1" />
<line x1="476.55" y1="215.4" x2="482.55" y2="215.4" stroke="#e08c1c" stroke-width="1.1" />
<text x="7.1" y="284.3" font-size="12" text-anchor="start" font-weight="bold" font-style="normal" fill="#000" stroke="#000" stroke-width="0.144" >C</text>
<text x="38.9" y="305" font-size="9.5" text-anchor="middle" font-weight="bold" font-style="italic" fill="#1a1a1a" stroke="#1a1a1a" stroke-width="0.114" >Ctrl</text>
<line x1="18.6" y1="309.3" x2="58.6" y2="309.3" stroke="#333" stroke-width="1.5" />
<text x="134.2" y="303.8" font-size="9.6" text-anchor="middle" font-weight="bold" font-style="italic" fill="#1a1a1a" stroke="#1a1a1a" stroke-width="0.115" >Cbl<tspan font-size="7" dy="-2.8">Q367P</tspan></text>
<line x1="71.3" y1="309.3" x2="196.9" y2="309.3" stroke="#333" stroke-width="1.5" />
<text x="34" y="341" font-size="8.5" text-anchor="start" font-weight="normal" font-style="normal" fill="#1a1a1a" stroke="#1a1a1a" stroke-width="0.204" transform="rotate(-45 34 341)">Vehicle</text>
<text x="75" y="341" font-size="8.5" text-anchor="start" font-weight="normal" font-style="normal" fill="#1a1a1a" stroke="#1a1a1a" stroke-width="0.204" transform="rotate(-45 75 341)">Vehicle</text>
<text x="112" y="342" font-size="8.5" text-anchor="start" font-weight="normal" font-style="normal" fill="#1a1a1a" stroke="#1a1a1a" stroke-width="0.204" transform="rotate(-45 112 342)">AZD1480</text>
<text x="148.3" y="341.5" font-size="8.5" text-anchor="start" font-weight="normal" font-style="normal" fill="#1a1a1a" stroke="#1a1a1a" stroke-width="0.204" transform="rotate(-45 148.3 341.5)">CAL101</text>
<text x="175" y="341.5" font-size="8.5" text-anchor="start" font-weight="normal" font-style="normal" fill="#1a1a1a" stroke="#1a1a1a" stroke-width="0.204" transform="rotate(-45 175 341.5)">Comb</text>
<rect x="17" y="346.4" width="179.3" height="72" fill="#c5cacf"/>
<rect x="17" y="346.4" width="179.3" height="72" fill="url(#spg)" opacity="0.5"/>
<path d="M32,361 C37,360.5 41.5,366 42.3,374 C43,382 42,391 39,396 C36.5,399.5 31,399.5 28.5,396.5 C26.8,394 27.5,389 29,385 C30.5,380 30.5,374 29.5,369 C28.8,365 29.5,361.5 32,361 Z" fill="#e6d4d4" stroke="#e6d4d4" stroke-width="1.6" opacity="0.6" filter="url(#soft)"/>
<path d="M32,361 C37,360.5 41.5,366 42.3,374 C43,382 42,391 39,396 C36.5,399.5 31,399.5 28.5,396.5 C26.8,394 27.5,389 29,385 C30.5,380 30.5,374 29.5,369 C28.8,365 29.5,361.5 32,361 Z" fill="#772a32" stroke="none" stroke-width="0" filter="url(#soft)"/>
<path d="M32,361 C37,360.5 41.5,366 42.3,374 C43,382 42,391 39,396 C36.5,399.5 31,399.5 28.5,396.5 C26.8,394 27.5,389 29,385 C30.5,380 30.5,374 29.5,369 C28.8,365 29.5,361.5 32,361 Z" fill="url(#splg)" stroke="none" stroke-width="0" filter="url(#soft)"/>
<path d="M32,361 C37,360.5 41.5,366 42.3,374 C43,382 42,391 39,396 C36.5,399.5 31,399.5 28.5,396.5 C26.8,394 27.5,389 29,385 C30.5,380 30.5,374 29.5,369 C28.8,365 29.5,361.5 32,361 Z" fill="#fff" stroke="none" stroke-width="0" filter="url(#splN)" opacity="0.2"/>
<path d="M72.6,358.5 C77.5,358.5 81,366 81.2,376 C81.5,388 79,399 74.5,404.5 C71,408 64.5,407 63,402.5 C62,398.5 65.5,392.5 67.8,386.5 C70,380 70,373 69,367 C68.4,362.5 69.5,358.7 72.6,358.5 Z" fill="#e6d4d4" stroke="#e6d4d4" stroke-width="1.6" opacity="0.6" filter="url(#soft)"/>
<path d="M72.6,358.5 C77.5,358.5 81,366 81.2,376 C81.5,388 79,399 74.5,404.5 C71,408 64.5,407 63,402.5 C62,398.5 65.5,392.5 67.8,386.5 C70,380 70,373 69,367 C68.4,362.5 69.5,358.7 72.6,358.5 Z" fill="#772a32" stroke="none" stroke-width="0" filter="url(#soft)"/>
<path d="M72.6,358.5 C77.5,358.5 81,366 81.2,376 C81.5,388 79,399 74.5,404.5 C71,408 64.5,407 63,402.5 C62,398.5 65.5,392.5 67.8,386.5 C70,380 70,373 69,367 C68.4,362.5 69.5,358.7 72.6,358.5 Z" fill="url(#splg)" stroke="none" stroke-width="0" filter="url(#soft)"/>
<path d="M72.6,358.5 C77.5,358.5 81,366 81.2,376 C81.5,388 79,399 74.5,404.5 C71,408 64.5,407 63,402.5 C62,398.5 65.5,392.5 67.8,386.5 C70,380 70,373 69,367 C68.4,362.5 69.5,358.7 72.6,358.5 Z" fill="#fff" stroke="none" stroke-width="0" filter="url(#splN)" opacity="0.2"/>
<path d="M112,360.2 C116.5,360 119,367 118.9,378 C118.8,390 115,400 110,405.5 C107.5,408 103.5,407.5 103,403.5 C102.7,399.5 106.5,393 108.5,386 C110.5,379 110,371 109.2,366 C108.8,362.5 109.8,360.4 112,360.2 Z" fill="#e6d4d4" stroke="#e6d4d4" stroke-width="1.6" opacity="0.6" filter="url(#soft)"/>
<path d="M112,360.2 C116.5,360 119,367 118.9,378 C118.8,390 115,400 110,405.5 C107.5,408 103.5,407.5 103,403.5 C102.7,399.5 106.5,393 108.5,386 C110.5,379 110,371 109.2,366 C108.8,362.5 109.8,360.4 112,360.2 Z" fill="#772a32" stroke="none" stroke-width="0" filter="url(#soft)"/>
<path d="M112,360.2 C116.5,360 119,367 118.9,378 C118.8,390 115,400 110,405.5 C107.5,408 103.5,407.5 103,403.5 C102.7,399.5 106.5,393 108.5,386 C110.5,379 110,371 109.2,366 C108.8,362.5 109.8,360.4 112,360.2 Z" fill="url(#splg)" stroke="none" stroke-width="0" filter="url(#soft)"/>
<path d="M112,360.2 C116.5,360 119,367 118.9,378 C118.8,390 115,400 110,405.5 C107.5,408 103.5,407.5 103,403.5 C102.7,399.5 106.5,393 108.5,386 C110.5,379 110,371 109.2,366 C108.8,362.5 109.8,360.4 112,360.2 Z" fill="#fff" stroke="none" stroke-width="0" filter="url(#splN)" opacity="0.2"/>
<path d="M146,360.4 C151.5,360 156.5,367.5 156.8,378 C157,390 153,399.5 147.5,404.5 C144.5,407 139.5,406.5 138.7,402.5 C138,398.5 142,392.5 144.5,385.5 C146.5,379 146,372 144.5,367.5 C143.3,363.5 143.8,360.6 146,360.4 Z" fill="#e6d4d4" stroke="#e6d4d4" stroke-width="1.6" opacity="0.6" filter="url(#soft)"/>
<path d="M146,360.4 C151.5,360 156.5,367.5 156.8,378 C157,390 153,399.5 147.5,404.5 C144.5,407 139.5,406.5 138.7,402.5 C138,398.5 142,392.5 144.5,385.5 C146.5,379 146,372 144.5,367.5 C143.3,363.5 143.8,360.6 146,360.4 Z" fill="#772a32" stroke="none" stroke-width="0" filter="url(#soft)"/>
<path d="M146,360.4 C151.5,360 156.5,367.5 156.8,378 C157,390 153,399.5 147.5,404.5 C144.5,407 139.5,406.5 138.7,402.5 C138,398.5 142,392.5 144.5,385.5 C146.5,379 146,372 144.5,367.5 C143.3,363.5 143.8,360.6 146,360.4 Z" fill="url(#splg)" stroke="none" stroke-width="0" filter="url(#soft)"/>
<path d="M146,360.4 C151.5,360 156.5,367.5 156.8,378 C157,390 153,399.5 147.5,404.5 C144.5,407 139.5,406.5 138.7,402.5 C138,398.5 142,392.5 144.5,385.5 C146.5,379 146,372 144.5,367.5 C143.3,363.5 143.8,360.6 146,360.4 Z" fill="#fff" stroke="none" stroke-width="0" filter="url(#splN)" opacity="0.2"/>
<path d="M177,361.3 C181.5,361 185,367.5 185.2,377.5 C185.4,388 182.5,397.5 178,402 C175.5,404.5 171.5,404 171,400.5 C170.5,396.5 173.5,390 175,383.5 C176.3,377 175.7,371 174.8,367 C174,363.5 174.8,361.5 177,361.3 Z" fill="#e6d4d4" stroke="#e6d4d4" stroke-width="1.6" opacity="0.6" filter="url(#soft)"/>
<path d="M177,361.3 C181.5,361 185,367.5 185.2,377.5 C185.4,388 182.5,397.5 178,402 C175.5,404.5 171.5,404 171,400.5 C170.5,396.5 173.5,390 175,383.5 C176.3,377 175.7,371 174.8,367 C174,363.5 174.8,361.5 177,361.3 Z" fill="#772a32" stroke="none" stroke-width="0" filter="url(#soft)"/>
<path d="M177,361.3 C181.5,361 185,367.5 185.2,377.5 C185.4,388 182.5,397.5 178,402 C175.5,404.5 171.5,404 171,400.5 C170.5,396.5 173.5,390 175,383.5 C176.3,377 175.7,371 174.8,367 C174,363.5 174.8,361.5 177,361.3 Z" fill="url(#splg)" stroke="none" stroke-width="0" filter="url(#soft)"/>
<path d="M177,361.3 C181.5,361 185,367.5 185.2,377.5 C185.4,388 182.5,397.5 178,402 C175.5,404.5 171.5,404 171,400.5 C170.5,396.5 173.5,390 175,383.5 C176.3,377 175.7,371 174.8,367 C174,363.5 174.8,361.5 177,361.3 Z" fill="#fff" stroke="none" stroke-width="0" filter="url(#splN)" opacity="0.2"/>
<ellipse cx="33.5" cy="364" rx="2" ry="1.5" fill="#d8a8a8" opacity="0.8" filter="url(#blur05)"/>
<ellipse cx="72.5" cy="362.5" rx="2" ry="1.5" fill="#d8a8a8" opacity="0.8" filter="url(#blur05)"/>
<ellipse cx="113" cy="363.5" rx="2" ry="1.5" fill="#d8a8a8" opacity="0.8" filter="url(#blur05)"/>
<ellipse cx="147.5" cy="364" rx="2" ry="1.5" fill="#d8a8a8" opacity="0.8" filter="url(#blur05)"/>
<ellipse cx="177" cy="364.5" rx="2" ry="1.5" fill="#d8a8a8" opacity="0.8" filter="url(#blur05)"/>
<text x="231.8" y="315.6" font-size="8" text-anchor="middle" font-weight="normal" font-style="normal" fill="#1a1a1a" stroke="#1a1a1a" stroke-width="0.192" >(mg)</text>
<line x1="245.2" y1="321.1" x2="245.2" y2="419.0" stroke="#1a1a1a" stroke-width="1.5" />
<line x1="244.5" y1="418.3" x2="356.5" y2="418.3" stroke="#1a1a1a" stroke-width="1.5" />
<line x1="241.6" y1="418.3" x2="245.2" y2="418.3" stroke="#1a1a1a" stroke-width="1.3" />
<text x="239.2" y="420.8" font-size="7.9" text-anchor="end" font-weight="normal" font-style="normal" fill="#1a1a1a" stroke="#1a1a1a" stroke-width="0.19" >0</text>
<line x1="241.6" y1="399.4" x2="245.2" y2="399.4" stroke="#1a1a1a" stroke-width="1.3" />
<text x="239.2" y="401.9" font-size="7.9" text-anchor="end" font-weight="normal" font-style="normal" fill="#1a1a1a" stroke="#1a1a1a" stroke-width="0.19" >50</text>
<line x1="241.6" y1="380.5" x2="245.2" y2="380.5" stroke="#1a1a1a" stroke-width="1.3" />
<text x="239.2" y="383.0" font-size="7.9" text-anchor="end" font-weight="normal" font-style="normal" fill="#1a1a1a" stroke="#1a1a1a" stroke-width="0.19" >100</text>
<line x1="241.6" y1="361.6" x2="245.2" y2="361.6" stroke="#1a1a1a" stroke-width="1.3" />
<text x="239.2" y="364.1" font-size="7.9" text-anchor="end" font-weight="normal" font-style="normal" fill="#1a1a1a" stroke="#1a1a1a" stroke-width="0.19" >150</text>
<line x1="241.6" y1="342.7" x2="245.2" y2="342.7" stroke="#1a1a1a" stroke-width="1.3" />
<text x="239.2" y="345.2" font-size="7.9" text-anchor="end" font-weight="normal" font-style="normal" fill="#1a1a1a" stroke="#1a1a1a" stroke-width="0.19" >200</text>
<line x1="241.6" y1="323.8" x2="245.2" y2="323.8" stroke="#1a1a1a" stroke-width="1.3" />
<text x="239.2" y="326.3" font-size="7.9" text-anchor="end" font-weight="normal" font-style="normal" fill="#1a1a1a" stroke="#1a1a1a" stroke-width="0.19" >250</text>
<rect x="248.7" y="387" width="15" height="31.30000000000001" fill="#4e2266" />
<line x1="256.2" y1="382.7" x2="256.2" y2="387" stroke="#4e2266" stroke-width="1" />
<line x1="253.2" y1="382.7" x2="259.2" y2="382.7" stroke="#4e2266" stroke-width="1.1" />
<rect x="271.2" y="345.2" width="15" height="73.10000000000002" fill="#a8102e" />
<line x1="278.7" y1="343.3" x2="278.7" y2="345.2" stroke="#a8102e" stroke-width="1" />
<line x1="275.7" y1="343.3" x2="281.7" y2="343.3" stroke="#a8102e" stroke-width="1.1" />
<rect x="293.6" y="359.6" width="15" height="58.69999999999999" fill="#68a83c" />
<line x1="301.1" y1="355.2" x2="301.1" y2="359.6" stroke="#68a83c" stroke-width="1" />
<line x1="298.1" y1="355.2" x2="304.1" y2="355.2" stroke="#68a83c" stroke-width="1.1" />
<rect x="316" y="350" width="15" height="68.30000000000001" fill="#2b4c84" />
<line x1="323.5" y1="339.4" x2="323.5" y2="350" stroke="#2b4c84" stroke-width="1" />
<line x1="320.5" y1="339.4" x2="326.5" y2="339.4" stroke="#2b4c84" stroke-width="1.1" />
<rect x="338.5" y="367" width="15" height="51.30000000000001" fill="#e08c1c" />
<line x1="346.0" y1="361" x2="346.0" y2="367" stroke="#e08c1c" stroke-width="1" />
<line x1="343.0" y1="361" x2="349.0" y2="361" stroke="#e08c1c" stroke-width="1.1" />
<text x="222.3" y="369.7" font-size="8.3" text-anchor="middle" font-weight="normal" font-style="normal" fill="#1a1a1a" stroke="#1a1a1a" stroke-width="0.199" transform="rotate(-90 222.3 369.7)">Spleen weight</text>
<path d="M257,373.5 L257,330.3 L278.6,330.3 L278.6,337" fill="none" stroke="#1a1a1a" stroke-width="1.1" />
<path d="M280.4,337 L280.4,330.3 L346.3,330.3 L346.3,355.8" fill="none" stroke="#1a1a1a" stroke-width="1.1" />
<circle cx="265.8" cy="324.7" r="1.15" fill="#1a1a1a"/>
<circle cx="269.5" cy="324.7" r="1.15" fill="#1a1a1a"/>
<circle cx="311.2" cy="324.7" r="1.15" fill="#1a1a1a"/>
<circle cx="314.9" cy="324.7" r="1.15" fill="#1a1a1a"/>
<text x="376.2" y="316" font-size="8.3" text-anchor="middle" font-weight="normal" font-style="normal" fill="#1a1a1a" stroke="#1a1a1a" stroke-width="0.199" >(×10<tspan font-size="5.6" dy="-3.2">6</tspan><tspan dy="3.2">)</tspan></text>
<text x="395.6" y="316.5" font-size="9.4" text-anchor="start" font-weight="bold" font-style="normal" fill="#1a1a1a" stroke="#1a1a1a" stroke-width="0.113" >Mac1<tspan font-size="6.6" dy="-3.5">+</tspan></text>
<line x1="387" y1="323.2" x2="387" y2="419.0" stroke="#1a1a1a" stroke-width="1.5" />
<line x1="386.3" y1="418.3" x2="431.8" y2="418.3" stroke="#1a1a1a" stroke-width="1.5" />
<line x1="383.4" y1="418.3" x2="387" y2="418.3" stroke="#1a1a1a" stroke-width="1.3" />
<text x="381.0" y="420.8" font-size="7.9" text-anchor="end" font-weight="normal" font-style="normal" fill="#1a1a1a" stroke="#1a1a1a" stroke-width="0.19" >0</text>
<line x1="383.4" y1="395.2" x2="387" y2="395.2" stroke="#1a1a1a" stroke-width="1.3" />
<text x="381.0" y="397.7" font-size="7.9" text-anchor="end" font-weight="normal" font-style="normal" fill="#1a1a1a" stroke="#1a1a1a" stroke-width="0.19" >5</text>
<line x1="383.4" y1="372.1" x2="387" y2="372.1" stroke="#1a1a1a" stroke-width="1.3" />
<text x="381.0" y="374.6" font-size="7.9" text-anchor="end" font-weight="normal" font-style="normal" fill="#1a1a1a" stroke="#1a1a1a" stroke-width="0.19" >10</text>
<line x1="383.4" y1="349" x2="387" y2="349" stroke="#1a1a1a" stroke-width="1.3" />
<text x="381.0" y="351.5" font-size="7.9" text-anchor="end" font-weight="normal" font-style="normal" fill="#1a1a1a" stroke="#1a1a1a" stroke-width="0.19" >15</text>
<line x1="383.4" y1="325.9" x2="387" y2="325.9" stroke="#1a1a1a" stroke-width="1.3" />
<text x="381.0" y="328.4" font-size="7.9" text-anchor="end" font-weight="normal" font-style="normal" fill="#1a1a1a" stroke="#1a1a1a" stroke-width="0.19" >20</text>
<rect x="391.2" y="357.7" width="14.8" height="60.60000000000002" fill="#a8102e" />
<line x1="398.59999999999997" y1="348" x2="398.59999999999997" y2="357.7" stroke="#a8102e" stroke-width="1" />
<line x1="395.59999999999997" y1="348" x2="401.59999999999997" y2="348" stroke="#a8102e" stroke-width="1.1" />
<rect x="413.6" y="376.6" width="15" height="41.69999999999999" fill="#e08c1c" />
<line x1="421.1" y1="365.8" x2="421.1" y2="376.6" stroke="#e08c1c" stroke-width="1" />
<line x1="418.1" y1="365.8" x2="424.1" y2="365.8" stroke="#e08c1c" stroke-width="1.1" />
<line x1="400.8" y1="340.8" x2="427.2" y2="340.8" stroke="#1a1a1a" stroke-width="1.1" />
<text x="414" y="338" font-size="7.2" text-anchor="middle" font-weight="normal" font-style="normal" fill="#1a1a1a" stroke="#1a1a1a" stroke-width="0.173" >ns</text>
<text x="454.8" y="316" font-size="8.3" text-anchor="middle" font-weight="normal" font-style="normal" fill="#1a1a1a" stroke="#1a1a1a" stroke-width="0.199" >(×10<tspan font-size="5.6" dy="-3.2">6</tspan><tspan dy="3.2">)</tspan></text>
<text x="476" y="316.5" font-size="9.4" text-anchor="start" font-weight="bold" font-style="normal" fill="#1a1a1a" stroke="#1a1a1a" stroke-width="0.113" >B220<tspan font-size="6.6" dy="-3.5">+</tspan></text>
<line x1="467.6" y1="323.1" x2="467.6" y2="418.9" stroke="#1a1a1a" stroke-width="1.5" />
<line x1="466.90000000000003" y1="418.2" x2="513" y2="418.2" stroke="#1a1a1a" stroke-width="1.5" />
<line x1="464.0" y1="418.2" x2="467.6" y2="418.2" stroke="#1a1a1a" stroke-width="1.3" />
<text x="461.6" y="420.7" font-size="7.9" text-anchor="end" font-weight="normal" font-style="normal" fill="#1a1a1a" stroke="#1a1a1a" stroke-width="0.19" >0</text>
<line x1="464.0" y1="395.1" x2="467.6" y2="395.1" stroke="#1a1a1a" stroke-width="1.3" />
<text x="461.6" y="397.6" font-size="7.9" text-anchor="end" font-weight="normal" font-style="normal" fill="#1a1a1a" stroke="#1a1a1a" stroke-width="0.19" >20</text>
<line x1="464.0" y1="372.2" x2="467.6" y2="372.2" stroke="#1a1a1a" stroke-width="1.3" />
<text x="461.6" y="374.7" font-size="7.9" text-anchor="end" font-weight="normal" font-style="normal" fill="#1a1a1a" stroke="#1a1a1a" stroke-width="0.19" >40</text>
<line x1="464.0" y1="349.2" x2="467.6" y2="349.2" stroke="#1a1a1a" stroke-width="1.3" />
<text x="461.6" y="351.7" font-size="7.9" text-anchor="end" font-weight="normal" font-style="normal" fill="#1a1a1a" stroke="#1a1a1a" stroke-width="0.19" >60</text>
<line x1="464.0" y1="325.8" x2="467.6" y2="325.8" stroke="#1a1a1a" stroke-width="1.3" />
<text x="461.6" y="328.3" font-size="7.9" text-anchor="end" font-weight="normal" font-style="normal" fill="#1a1a1a" stroke="#1a1a1a" stroke-width="0.19" >80</text>
<rect x="471.5" y="357.7" width="15.5" height="60.5" fill="#a8102e" />
<line x1="479.25" y1="351.2" x2="479.25" y2="357.7" stroke="#a8102e" stroke-width="1" />
<line x1="476.25" y1="351.2" x2="482.25" y2="351.2" stroke="#a8102e" stroke-width="1.1" />
<rect x="494" y="376.6" width="15.2" height="41.599999999999966" fill="#e08c1c" />
<line x1="501.6" y1="368.3" x2="501.6" y2="376.6" stroke="#e08c1c" stroke-width="1" />
<line x1="498.6" y1="368.3" x2="504.6" y2="368.3" stroke="#e08c1c" stroke-width="1.1" />
<line x1="478.5" y1="343.4" x2="505" y2="343.4" stroke="#1a1a1a" stroke-width="1.1" />
<circle cx="491.3" cy="338.8" r="1.15" fill="#1a1a1a"/>
<text x="7.1" y="441.9" font-size="12" text-anchor="start" font-weight="bold" font-style="normal" fill="#000" stroke="#000" stroke-width="0.144" >D</text>
<text x="45.9" y="455.8" font-size="9.5" text-anchor="middle" font-weight="bold" font-style="italic" fill="#1a1a1a" stroke="#1a1a1a" stroke-width="0.114" >Ctrl</text>
<line x1="17.3" y1="460.8" x2="73.6" y2="460.8" stroke="#333" stroke-width="1.5" />
<text x="203.3" y="455.7" font-size="9.6" text-anchor="middle" font-weight="bold" font-style="italic" fill="#1a1a1a" stroke="#1a1a1a" stroke-width="0.115" >Cbl<tspan font-size="7" dy="-2.8">Q367P</tspan></text>
<line x1="81.3" y1="460.8" x2="323.8" y2="460.8" stroke="#333" stroke-width="1.5" />
<text x="43.3" y="492.3" font-size="8.5" text-anchor="start" font-weight="normal" font-style="normal" fill="#1a1a1a" stroke="#1a1a1a" stroke-width="0.204" transform="rotate(-45 43.3 492.3)">Vehicle</text>
<text x="109.8" y="492.3" font-size="8.5" text-anchor="start" font-weight="normal" font-style="normal" fill="#1a1a1a" stroke="#1a1a1a" stroke-width="0.204" transform="rotate(-45 109.8 492.3)">Vehicle</text>
<text x="173.8" y="493.5" font-size="8.5" text-anchor="start" font-weight="normal" font-style="normal" fill="#1a1a1a" stroke="#1a1a1a" stroke-width="0.204" transform="rotate(-45 173.8 493.5)">AZD1480</text>
<text x="237.5" y="493" font-size="8.5" text-anchor="start" font-weight="normal" font-style="normal" fill="#1a1a1a" stroke="#1a1a1a" stroke-width="0.204" transform="rotate(-45 237.5 493)">CAL101</text>
<text x="304" y="493" font-size="8.5" text-anchor="start" font-weight="normal" font-style="normal" fill="#1a1a1a" stroke="#1a1a1a" stroke-width="0.204" transform="rotate(-45 304 493)">Comb</text>
<filter id="nDark1" x="0" y="0" width="1" height="1"><feTurbulence type="fractalNoise" baseFrequency="0.9" numOctaves="2" seed="3"/><feColorMatrix type="matrix" values="0 0 0 0 0.35  0 0 0 0 0.3  0 0 0 0 0.22  3 0 0 0 -1.55"/><feComposite in2="SourceGraphic" operator="in"/></filter>
<filter id="nLight1" x="0" y="0" width="1" height="1"><feTurbulence type="fractalNoise" baseFrequency="0.12" numOctaves="2" seed="11"/><feColorMatrix type="matrix" values="0 0 0 0 0.95  0 0 0 0 0.93  0 0 0 0 0.88  2.5 0 0 0 -1.35"/><feComposite in2="SourceGraphic" operator="in"/></filter>
<filter id="nDark2" x="0" y="0" width="1" height="1"><feTurbulence type="fractalNoise" baseFrequency="1.1" numOctaves="2" seed="5"/><feColorMatrix type="matrix" values="0 0 0 0 0.36  0 0 0 0 0.3  0 0 0 0 0.2  4 0 0 0 -2.0"/><feComposite in2="SourceGraphic" operator="in"/></filter>
<filter id="nLight2" x="0" y="0" width="1" height="1"><feTurbulence type="fractalNoise" baseFrequency="0.9" numOctaves="2" seed="8"/><feColorMatrix type="matrix" values="0 0 0 0 0.97  0 0 0 0 0.95  0 0 0 0 0.9  4 0 0 0 -1.9"/><feComposite in2="SourceGraphic" operator="in"/></filter>
<filter id="nDark3" x="0" y="0" width="1" height="1"><feTurbulence type="fractalNoise" baseFrequency="0.35" numOctaves="3" seed="7"/><feColorMatrix type="matrix" values="0 0 0 0 0.45  0 0 0 0 0.36  0 0 0 0 0.2  4 0 0 0 -1.7"/><feComposite in2="SourceGraphic" operator="in"/></filter>
<filter id="nLight3" x="0" y="0" width="1" height="1"><feTurbulence type="fractalNoise" baseFrequency="0.5" numOctaves="2" seed="13"/><feColorMatrix type="matrix" values="0 0 0 0 0.95  0 0 0 0 0.93  0 0 0 0 0.88  4 0 0 0 -2.1"/><feComposite in2="SourceGraphic" operator="in"/></filter>
<filter id="nDark3b" x="0" y="0" width="1" height="1"><feTurbulence type="fractalNoise" baseFrequency="1.2" numOctaves="2" seed="17"/><feColorMatrix type="matrix" values="0 0 0 0 0.32  0 0 0 0 0.26  0 0 0 0 0.15  4 0 0 0 -1.9"/><feComposite in2="SourceGraphic" operator="in"/></filter>
<filter id="nDark4" x="0" y="0" width="1" height="1"><feTurbulence type="fractalNoise" baseFrequency="1.0" numOctaves="2" seed="9"/><feColorMatrix type="matrix" values="0 0 0 0 0.38  0 0 0 0 0.33  0 0 0 0 0.24  3.5 0 0 0 -1.8"/><feComposite in2="SourceGraphic" operator="in"/></filter>
<filter id="nLight4" x="0" y="0" width="1" height="1"><feTurbulence type="fractalNoise" baseFrequency="0.5" numOctaves="2" seed="19"/><feColorMatrix type="matrix" values="0 0 0 0 0.93  0 0 0 0 0.91  0 0 0 0 0.86  3 0 0 0 -1.5"/><feComposite in2="SourceGraphic" operator="in"/></filter>
<filter id="nDark5" x="0" y="0" width="1" height="1"><feTurbulence type="fractalNoise" baseFrequency="0.8" numOctaves="2" seed="21"/><feColorMatrix type="matrix" values="0 0 0 0 0.45  0 0 0 0 0.42  0 0 0 0 0.36  2.5 0 0 0 -1.3"/><feComposite in2="SourceGraphic" operator="in"/></filter>
<rect x="17.1" y="497.2" width="56.2" height="56.2" fill="#c8bca2" />
<rect x="17.1" y="497.2" width="56.2" height="56.2" fill="#fff" filter="url(#nLight1)" opacity="0.25"/>
<rect x="17.1" y="497.2" width="56.2" height="56.2" fill="url(#p1c)"/>
<rect x="17.1" y="497.2" width="56.2" height="56.2" fill="#fff" filter="url(#nDark1)" opacity="0.45"/>
<rect x="17.1" y="497.2" width="56.2" height="56.2" fill="url(#topdark)"/>
<circle cx="25.6" cy="515" r="3" fill="#e4ddd0" opacity="0.6" filter="url(#blur1)"/>
<circle cx="57.8" cy="520.2" r="3" fill="#e4ddd0" opacity="0.6" filter="url(#blur1)"/>
<circle cx="46" cy="517.9" r="1.8" fill="#e4ddd0" opacity="0.6" filter="url(#blur1)"/>
<circle cx="22" cy="535" r="2" fill="#e4ddd0" opacity="0.6" filter="url(#blur1)"/>
<ellipse cx="47.3" cy="543.7" rx="6.0" ry="5.199999999999999" fill="#f8f6f0" opacity="0.95" filter="url(#blur1)" transform="rotate(-20 47.3 543.7)"/>
<ellipse cx="47.3" cy="543.7" rx="3.6" ry="2.8" fill="#60543f" filter="url(#blur07)" transform="rotate(-20 47.3 543.7)"/>
<rect x="82.4" y="497.2" width="56.2" height="56.2" fill="#cbc1ab" />
<rect x="82.4" y="497.2" width="56.2" height="56.2" fill="url(#p2w)"/>
<rect x="82.4" y="497.2" width="56.2" height="56.2" fill="#fff" filter="url(#nLight2)" opacity="0.55"/>
<rect x="82.4" y="497.2" width="56.2" height="56.2" fill="#fff" filter="url(#nDark2)" opacity="0.4"/>
<rect x="82.4" y="497.2" width="56.2" height="56.2" fill="url(#vig2)"/>
<rect x="82.4" y="497.2" width="56.2" height="56.2" fill="url(#vig2b)"/>
<rect x="82.4" y="497.2" width="56.2" height="56.2" fill="url(#p2e)"/>
<ellipse cx="95" cy="504.2" rx="7.7" ry="7.5" fill="#f8f6f0" opacity="1" filter="url(#blur1)" transform="rotate(0 95 504.2)"/>
<ellipse cx="95" cy="504.2" rx="4.2" ry="4.0" fill="#6e604c" filter="url(#blur07)" transform="rotate(0 95 504.2)"/>
<ellipse cx="114.6" cy="537.1" rx="7.8" ry="9.3" fill="#f8f6f0" opacity="0.9" filter="url(#blur1)" transform="rotate(10 114.6 537.1)"/>
<ellipse cx="114.6" cy="537.1" rx="4.3" ry="5.8" fill="#625443" filter="url(#blur07)" transform="rotate(10 114.6 537.1)"/>
<ellipse cx="126.7" cy="534.8" rx="6.2" ry="6.4" fill="#f8f6f0" opacity="0.8" filter="url(#blur1)" transform="rotate(0 126.7 534.8)"/>
<ellipse cx="126.7" cy="534.8" rx="3.2" ry="3.4" fill="#6e604c" filter="url(#blur07)" transform="rotate(0 126.7 534.8)"/>
<rect x="147.6" y="497.2" width="56.2" height="56.2" fill="#b8a886" />
<rect x="147.6" y="497.2" width="56.2" height="56.2" fill="url(#p3w)"/>
<rect x="147.6" y="497.2" width="56.2" height="56.2" fill="url(#p3d)"/>
<rect x="147.6" y="497.2" width="56.2" height="56.2" fill="#fff" filter="url(#nDark3)" opacity="0.7"/>
<rect x="147.6" y="497.2" width="56.2" height="56.2" fill="#fff" filter="url(#nLight3)" opacity="0.5"/>
<rect x="147.6" y="497.2" width="56.2" height="56.2" fill="#fff" filter="url(#nDark3b)" opacity="0.45"/>
<rect x="147.6" y="497.2" width="56.2" height="56.2" fill="url(#p3l)"/>
<ellipse cx="168" cy="512.5" rx="7" ry="6" fill="#ece6da" opacity="0.6" filter="url(#blur1)"/>
<circle cx="166" cy="510" r="1.1" fill="#857458" opacity="0.75" filter="url(#blur03)"/>
<circle cx="170" cy="511" r="1.1" fill="#857458" opacity="0.75" filter="url(#blur03)"/>
<circle cx="168" cy="514.5" r="1.1" fill="#857458" opacity="0.75" filter="url(#blur03)"/>
<circle cx="164.5" cy="513.5" r="1.1" fill="#857458" opacity="0.75" filter="url(#blur03)"/>
<circle cx="171" cy="515" r="1.1" fill="#857458" opacity="0.75" filter="url(#blur03)"/>
<circle cx="167.5" cy="508" r="1.1" fill="#857458" opacity="0.75" filter="url(#blur03)"/>
<circle cx="169.5" cy="517" r="1.1" fill="#857458" opacity="0.75" filter="url(#blur03)"/>
<circle cx="163" cy="511" r="1.1" fill="#857458" opacity="0.75" filter="url(#blur03)"/>
<ellipse cx="197.5" cy="536.5" rx="6.3" ry="6.5" fill="#f8f6f0" opacity="0.9" filter="url(#blur1)" transform="rotate(0 197.5 536.5)"/>
<ellipse cx="197.5" cy="536.5" rx="2.8" ry="3" fill="#807462" filter="url(#blur05)" transform="rotate(0 197.5 536.5)"/>
<rect x="212" y="497.2" width="56.2" height="56.2" fill="#c2b8a2" />
<rect x="212" y="497.2" width="56.2" height="56.2" fill="#fff" filter="url(#nLight4)" opacity="0.5"/>
<rect x="212" y="497.2" width="56.2" height="56.2" fill="#fff" filter="url(#nDark4)" opacity="0.6"/>
<ellipse cx="215.3" cy="504.2" rx="6.6" ry="6.8" fill="#f8f6f0" opacity="0.8" filter="url(#blur1)" transform="rotate(0 215.3 504.2)"/>
<ellipse cx="215.3" cy="504.2" rx="3.6" ry="3.8" fill="#65563e" filter="url(#blur07)" transform="rotate(0 215.3 504.2)"/>
<ellipse cx="261" cy="525.6" rx="6.5" ry="6.5" fill="#f8f6f0" opacity="0.7" filter="url(#blur1)" transform="rotate(0 261 525.6)"/>
<ellipse cx="261" cy="525.6" rx="4" ry="4" fill="#706248" filter="url(#blur07)" transform="rotate(0 261 525.6)"/>
<ellipse cx="233.5" cy="531" rx="7" ry="5.5" fill="#f0ece4" opacity="0.6" filter="url(#blur1)"/>
<ellipse cx="229.8" cy="529.6" rx="1.4" ry="1.4" fill="#6e6452" filter="url(#blur05)" transform="rotate(0 229.8 529.6)"/>
<ellipse cx="237.3" cy="532.5" rx="1.4" ry="1.4" fill="#6e6452" filter="url(#blur05)" transform="rotate(0 237.3 532.5)"/>
<ellipse cx="234.4" cy="528.5" rx="1.4" ry="1.4" fill="#6e6452" filter="url(#blur05)" transform="rotate(0 234.4 528.5)"/>
<ellipse cx="230.3" cy="533" rx="1.4" ry="1.4" fill="#6e6452" filter="url(#blur05)" transform="rotate(0 230.3 533)"/>
<rect x="276.2" y="497.2" width="56.2" height="56.2" fill="#d3cbbd" />
<rect x="276.2" y="497.2" width="56.2" height="56.2" fill="#fff" filter="url(#nDark5)" opacity="0.3"/>
<ellipse cx="303.6" cy="515.5" rx="3.3" ry="3.0" fill="#f8f6f0" opacity="0.3" filter="url(#blur1)" transform="rotate(-30 303.6 515.5)"/>
<ellipse cx="303.6" cy="515.5" rx="1.8" ry="1.5" fill="#6a604e" filter="url(#blur07)" transform="rotate(-30 303.6 515.5)"/>
<ellipse cx="307.7" cy="539" rx="3.8" ry="4.7" fill="#f8f6f0" opacity="0.3" filter="url(#blur1)" transform="rotate(15 307.7 539)"/>
<ellipse cx="307.7" cy="539" rx="2.3" ry="3.2" fill="#5e5442" filter="url(#blur07)" transform="rotate(15 307.7 539)"/>
<rect x="323.2" y="556" width="9.4" height="1.8" fill="#111" />
<text x="368" y="507" font-size="8.6" text-anchor="middle" font-weight="normal" font-style="normal" fill="#1a1a1a" stroke="#1a1a1a" stroke-width="0.206" transform="rotate(-90 368 507)">Colony number</text>
<line x1="388.5" y1="461.5" x2="388.5" y2="553.9000000000001" stroke="#1a1a1a" stroke-width="1.5" />
<line x1="387.8" y1="553.2" x2="499" y2="553.2" stroke="#1a1a1a" stroke-width="1.5" />
<line x1="384.9" y1="553.2" x2="388.5" y2="553.2" stroke="#1a1a1a" stroke-width="1.3" />
<text x="382.5" y="555.7" font-size="8.1" text-anchor="end" font-weight="normal" font-style="normal" fill="#1a1a1a" stroke="#1a1a1a" stroke-width="0.194" >0</text>
<line x1="384.9" y1="531.2" x2="388.5" y2="531.2" stroke="#1a1a1a" stroke-width="1.3" />
<text x="382.5" y="533.7" font-size="8.1" text-anchor="end" font-weight="normal" font-style="normal" fill="#1a1a1a" stroke="#1a1a1a" stroke-width="0.194" >15</text>
<line x1="384.9" y1="508.8" x2="388.5" y2="508.8" stroke="#1a1a1a" stroke-width="1.3" />
<text x="382.5" y="511.3" font-size="8.1" text-anchor="end" font-weight="normal" font-style="normal" fill="#1a1a1a" stroke="#1a1a1a" stroke-width="0.194" >30</text>
<line x1="384.9" y1="486.5" x2="388.5" y2="486.5" stroke="#1a1a1a" stroke-width="1.3" />
<text x="382.5" y="489.0" font-size="8.1" text-anchor="end" font-weight="normal" font-style="normal" fill="#1a1a1a" stroke="#1a1a1a" stroke-width="0.194" >45</text>
<line x1="384.9" y1="464.2" x2="388.5" y2="464.2" stroke="#1a1a1a" stroke-width="1.3" />
<text x="382.5" y="466.7" font-size="8.1" text-anchor="end" font-weight="normal" font-style="normal" fill="#1a1a1a" stroke="#1a1a1a" stroke-width="0.194" >60</text>
<rect x="392.6" y="515.8" width="15" height="37.40000000000009" fill="#4e2266" />
<line x1="400.1" y1="508.5" x2="400.1" y2="515.8" stroke="#4e2266" stroke-width="1" />
<line x1="397.1" y1="508.5" x2="403.1" y2="508.5" stroke="#4e2266" stroke-width="1.1" />
<rect x="414.9" y="502.4" width="14.6" height="50.80000000000007" fill="#a8102e" />
<line x1="422.2" y1="497.3" x2="422.2" y2="502.4" stroke="#a8102e" stroke-width="1" />
<line x1="419.2" y1="497.3" x2="425.2" y2="497.3" stroke="#a8102e" stroke-width="1.1" />
<rect x="436.5" y="492.2" width="15" height="61.00000000000006" fill="#68a83c" />
<line x1="444.0" y1="484.5" x2="444.0" y2="492.2" stroke="#68a83c" stroke-width="1" />
<line x1="441.0" y1="484.5" x2="447.0" y2="484.5" stroke="#68a83c" stroke-width="1.1" />
<rect x="458.5" y="513" width="15" height="40.200000000000045" fill="#2b4c84" />
<line x1="466.0" y1="506.5" x2="466.0" y2="513" stroke="#2b4c84" stroke-width="1" />
<line x1="463.0" y1="506.5" x2="469.0" y2="506.5" stroke="#2b4c84" stroke-width="1.1" />
<rect x="480.3" y="520" width="15.4" height="33.200000000000045" fill="#e08c1c" />
<line x1="488.0" y1="516.5" x2="488.0" y2="520" stroke="#e08c1c" stroke-width="1" />
<line x1="485.0" y1="516.5" x2="491.0" y2="516.5" stroke="#e08c1c" stroke-width="1.1" />
<path d="M400.3,500.4 L400.3,473.2 L420.8,473.2 L420.8,488.5" fill="none" stroke="#1a1a1a" stroke-width="1.1" />
<path d="M422.8,488.5 L422.8,473.2 L488.2,473.2 L488.2,496.8" fill="none" stroke="#1a1a1a" stroke-width="1.1" />
<circle cx="408.7" cy="468.1" r="1.15" fill="#1a1a1a"/>
<circle cx="412.4" cy="468.1" r="1.15" fill="#1a1a1a"/>
<circle cx="453.8" cy="468.1" r="1.15" fill="#1a1a1a"/>
<circle cx="457.6" cy="468.1" r="1.15" fill="#1a1a1a"/>
<text x="320.5" y="571.8" font-size="9.6" text-anchor="middle" font-weight="bold" font-style="normal" fill="#1a1a1a" stroke="#1a1a1a" stroke-width="0.115" >Annexin V<tspan font-size="6.6" dy="-3.5">+</tspan><tspan dy="3.5"> cells</tspan></text>
<line x1="198.8" y1="576.4" x2="442.5" y2="576.4" stroke="#333" stroke-width="1.5" />
<text x="125.9" y="595.1" font-size="9.4" text-anchor="middle" font-weight="bold" font-style="normal" fill="#1a1a1a" stroke="#1a1a1a" stroke-width="0.113" >LSK</text>
<text x="86.8" y="600.4" font-size="8.3" text-anchor="middle" font-weight="normal" font-style="normal" fill="#1a1a1a" stroke="#1a1a1a" stroke-width="0.199" >(×10<tspan font-size="5.6" dy="-3.2">3</tspan><tspan dy="3.2">)</tspan></text>
<text x="74.7" y="645.3" font-size="8.6" text-anchor="middle" font-weight="normal" font-style="normal" fill="#1a1a1a" stroke="#1a1a1a" stroke-width="0.206" transform="rotate(-90 74.7 645.3)">Cell number</text>
<line x1="99.6" y1="607.5" x2="99.6" y2="683.6" stroke="#1a1a1a" stroke-width="1.5" />
<line x1="98.89999999999999" y1="682.9" x2="151.5" y2="682.9" stroke="#1a1a1a" stroke-width="1.5" />
<line x1="96.0" y1="682.9" x2="99.6" y2="682.9" stroke="#1a1a1a" stroke-width="1.3" />
<text x="93.6" y="685.4" font-size="7.9" text-anchor="end" font-weight="normal" font-style="normal" fill="#1a1a1a" stroke="#1a1a1a" stroke-width="0.19" >0</text>
<line x1="96.0" y1="658.6" x2="99.6" y2="658.6" stroke="#1a1a1a" stroke-width="1.3" />
<text x="93.6" y="661.1" font-size="7.9" text-anchor="end" font-weight="normal" font-style="normal" fill="#1a1a1a" stroke="#1a1a1a" stroke-width="0.19" >50</text>
<line x1="96.0" y1="634.4" x2="99.6" y2="634.4" stroke="#1a1a1a" stroke-width="1.3" />
<text x="93.6" y="636.9" font-size="7.9" text-anchor="end" font-weight="normal" font-style="normal" fill="#1a1a1a" stroke="#1a1a1a" stroke-width="0.19" >100</text>
<line x1="96.0" y1="610.2" x2="99.6" y2="610.2" stroke="#1a1a1a" stroke-width="1.3" />
<text x="93.6" y="612.7" font-size="7.9" text-anchor="end" font-weight="normal" font-style="normal" fill="#1a1a1a" stroke="#1a1a1a" stroke-width="0.19" >150</text>
<rect x="103.8" y="634.4" width="18" height="48.5" fill="#a8102e" />
<line x1="112.8" y1="623.7" x2="112.8" y2="634.4" stroke="#a8102e" stroke-width="1" />
<line x1="109.8" y1="623.7" x2="115.8" y2="623.7" stroke="#a8102e" stroke-width="1.1" />
<rect x="129.8" y="632" width="18.2" height="50.89999999999998" fill="#e08c1c" />
<line x1="138.9" y1="616.2" x2="138.9" y2="632" stroke="#e08c1c" stroke-width="1" />
<line x1="135.9" y1="616.2" x2="141.9" y2="616.2" stroke="#e08c1c" stroke-width="1.1" />
<line x1="111.5" y1="610.8" x2="138" y2="610.8" stroke="#1a1a1a" stroke-width="1.1" />
<text x="125" y="608" font-size="7.2" text-anchor="middle" font-weight="normal" font-style="normal" fill="#1a1a1a" stroke="#1a1a1a" stroke-width="0.173" >ns</text>
<text x="221" y="595.1" font-size="9.4" text-anchor="middle" font-weight="bold" font-style="normal" fill="#1a1a1a" stroke="#1a1a1a" stroke-width="0.113" >LT-HSC</text>
<text x="184.7" y="598.3" font-size="7.8" text-anchor="middle" font-weight="normal" font-style="normal" fill="#1a1a1a" stroke="#1a1a1a" stroke-width="0.187" >(%)</text>
<line x1="195.4" y1="607.0999999999999" x2="195.4" y2="683.5" stroke="#1a1a1a" stroke-width="1.5" />
<line x1="194.70000000000002" y1="682.8" x2="246.2" y2="682.8" stroke="#1a1a1a" stroke-width="1.5" />
<line x1="191.8" y1="682.8" x2="195.4" y2="682.8" stroke="#1a1a1a" stroke-width="1.3" />
<text x="189.4" y="685.3" font-size="7.9" text-anchor="end" font-weight="normal" font-style="normal" fill="#1a1a1a" stroke="#1a1a1a" stroke-width="0.19" >0</text>
<line x1="191.8" y1="658.5" x2="195.4" y2="658.5" stroke="#1a1a1a" stroke-width="1.3" />
<text x="189.4" y="661.0" font-size="7.9" text-anchor="end" font-weight="normal" font-style="normal" fill="#1a1a1a" stroke="#1a1a1a" stroke-width="0.19" >4</text>
<line x1="191.8" y1="634.2" x2="195.4" y2="634.2" stroke="#1a1a1a" stroke-width="1.3" />
<text x="189.4" y="636.7" font-size="7.9" text-anchor="end" font-weight="normal" font-style="normal" fill="#1a1a1a" stroke="#1a1a1a" stroke-width="0.19" >8</text>
<line x1="191.8" y1="609.8" x2="195.4" y2="609.8" stroke="#1a1a1a" stroke-width="1.3" />
<text x="189.4" y="612.3" font-size="7.9" text-anchor="end" font-weight="normal" font-style="normal" fill="#1a1a1a" stroke="#1a1a1a" stroke-width="0.19" >12</text>
<rect x="199.5" y="668" width="17.8" height="14.799999999999955" fill="#a8102e" />
<line x1="208.4" y1="664.5" x2="208.4" y2="668" stroke="#a8102e" stroke-width="1" />
<line x1="205.4" y1="664.5" x2="211.4" y2="664.5" stroke="#a8102e" stroke-width="1.1" />
<rect x="226" y="647.2" width="17.9" height="35.59999999999991" fill="#e08c1c" />
<line x1="234.95" y1="638.5" x2="234.95" y2="647.2" stroke="#e08c1c" stroke-width="1" />
<line x1="231.95" y1="638.5" x2="237.95" y2="638.5" stroke="#e08c1c" stroke-width="1.1" />
<line x1="208" y1="633.4" x2="234.6" y2="633.4" stroke="#1a1a1a" stroke-width="1.1" />
<circle cx="221.2" cy="627.4" r="1.15" fill="#1a1a1a"/>
<text x="316.7" y="595.1" font-size="9.4" text-anchor="middle" font-weight="bold" font-style="normal" fill="#1a1a1a" stroke="#1a1a1a" stroke-width="0.113" >ST-HSC</text>
<text x="281.2" y="600.6" font-size="7.8" text-anchor="middle" font-weight="normal" font-style="normal" fill="#1a1a1a" stroke="#1a1a1a" stroke-width="0.187" >(%)</text>
<line x1="291.6" y1="607.3" x2="291.6" y2="683.6" stroke="#1a1a1a" stroke-width="1.5" />
<line x1="290.90000000000003" y1="682.9" x2="341.2" y2="682.9" stroke="#1a1a1a" stroke-width="1.5" />
<line x1="288.0" y1="682.9" x2="291.6" y2="682.9" stroke="#1a1a1a" stroke-width="1.3" />
<text x="285.6" y="685.4" font-size="7.9" text-anchor="end" font-weight="normal" font-style="normal" fill="#1a1a1a" stroke="#1a1a1a" stroke-width="0.19" >0</text>
<line x1="288.0" y1="658.6" x2="291.6" y2="658.6" stroke="#1a1a1a" stroke-width="1.3" />
<text x="285.6" y="661.1" font-size="7.9" text-anchor="end" font-weight="normal" font-style="normal" fill="#1a1a1a" stroke="#1a1a1a" stroke-width="0.19" >5</text>
<line x1="288.0" y1="634.3" x2="291.6" y2="634.3" stroke="#1a1a1a" stroke-width="1.3" />
<text x="285.6" y="636.8" font-size="7.9" text-anchor="end" font-weight="normal" font-style="normal" fill="#1a1a1a" stroke="#1a1a1a" stroke-width="0.19" >10</text>
<line x1="288.0" y1="610" x2="291.6" y2="610" stroke="#1a1a1a" stroke-width="1.3" />
<text x="285.6" y="612.5" font-size="7.9" text-anchor="end" font-weight="normal" font-style="normal" fill="#1a1a1a" stroke="#1a1a1a" stroke-width="0.19" >15</text>
<rect x="295.8" y="626.2" width="18" height="56.69999999999993" fill="#a8102e" />
<line x1="304.8" y1="617.4" x2="304.8" y2="626.2" stroke="#a8102e" stroke-width="1" />
<line x1="301.8" y1="617.4" x2="307.8" y2="617.4" stroke="#a8102e" stroke-width="1.1" />
<rect x="320.5" y="634.5" width="18" height="48.39999999999998" fill="#e08c1c" />
<line x1="329.5" y1="620" x2="329.5" y2="634.5" stroke="#e08c1c" stroke-width="1" />
<line x1="326.5" y1="620" x2="332.5" y2="620" stroke="#e08c1c" stroke-width="1.1" />
<line x1="303.8" y1="610.7" x2="330.4" y2="610.7" stroke="#1a1a1a" stroke-width="1.1" />
<text x="317" y="607.5" font-size="7.2" text-anchor="middle" font-weight="normal" font-style="normal" fill="#1a1a1a" stroke="#1a1a1a" stroke-width="0.173" >ns</text>
<text x="415.5" y="595.1" font-size="9.4" text-anchor="middle" font-weight="bold" font-style="normal" fill="#1a1a1a" stroke="#1a1a1a" stroke-width="0.113" >MPP</text>
<text x="383.2" y="600.6" font-size="7.8" text-anchor="middle" font-weight="normal" font-style="normal" fill="#1a1a1a" stroke="#1a1a1a" stroke-width="0.187" >(%)</text>
<line x1="391.2" y1="607.3" x2="391.2" y2="683.4000000000001" stroke="#1a1a1a" stroke-width="1.5" />
<line x1="390.5" y1="682.7" x2="440.4" y2="682.7" stroke="#1a1a1a" stroke-width="1.5" />
<line x1="387.59999999999997" y1="682.7" x2="391.2" y2="682.7" stroke="#1a1a1a" stroke-width="1.3" />
<text x="385.2" y="685.2" font-size="7.9" text-anchor="end" font-weight="normal" font-style="normal" fill="#1a1a1a" stroke="#1a1a1a" stroke-width="0.19" >0</text>
<line x1="387.59999999999997" y1="668.2" x2="391.2" y2="668.2" stroke="#1a1a1a" stroke-width="1.3" />
<text x="385.2" y="670.7" font-size="7.9" text-anchor="end" font-weight="normal" font-style="normal" fill="#1a1a1a" stroke="#1a1a1a" stroke-width="0.19" >1</text>
<line x1="387.59999999999997" y1="653.7" x2="391.2" y2="653.7" stroke="#1a1a1a" stroke-width="1.3" />
<text x="385.2" y="656.2" font-size="7.9" text-anchor="end" font-weight="normal" font-style="normal" fill="#1a1a1a" stroke="#1a1a1a" stroke-width="0.19" >2</text>
<line x1="387.59999999999997" y1="639.2" x2="391.2" y2="639.2" stroke="#1a1a1a" stroke-width="1.3" />
<text x="385.2" y="641.7" font-size="7.9" text-anchor="end" font-weight="normal" font-style="normal" fill="#1a1a1a" stroke="#1a1a1a" stroke-width="0.19" >3</text>
<line x1="387.59999999999997" y1="624.6" x2="391.2" y2="624.6" stroke="#1a1a1a" stroke-width="1.3" />
<text x="385.2" y="627.1" font-size="7.9" text-anchor="end" font-weight="normal" font-style="normal" fill="#1a1a1a" stroke="#1a1a1a" stroke-width="0.19" >4</text>
<line x1="387.59999999999997" y1="610" x2="391.2" y2="610" stroke="#1a1a1a" stroke-width="1.3" />
<text x="385.2" y="612.5" font-size="7.9" text-anchor="end" font-weight="normal" font-style="normal" fill="#1a1a1a" stroke="#1a1a1a" stroke-width="0.19" >5</text>
<rect x="395" y="638.4" width="18.2" height="44.30000000000007" fill="#a8102e" />
<line x1="404.1" y1="615.3" x2="404.1" y2="638.4" stroke="#a8102e" stroke-width="1" />
<line x1="401.1" y1="615.3" x2="407.1" y2="615.3" stroke="#a8102e" stroke-width="1.1" />
<rect x="419.2" y="641.2" width="18.4" height="41.5" fill="#e08c1c" />
<line x1="428.4" y1="629.6" x2="428.4" y2="641.2" stroke="#e08c1c" stroke-width="1" />
<line x1="425.4" y1="629.6" x2="431.4" y2="629.6" stroke="#e08c1c" stroke-width="1.1" />
<line x1="404" y1="608.4" x2="430" y2="608.4" stroke="#1a1a1a" stroke-width="1.1" />
<text x="417" y="605" font-size="7.2" text-anchor="middle" font-weight="normal" font-style="normal" fill="#1a1a1a" stroke="#1a1a1a" stroke-width="0.173" >ns</text>
<rect x="0" y="0" width="520" height="1.4" fill="#000"/><rect x="0" y="0" width="1.5" height="701" fill="#000"/><rect x="518.5" y="0" width="1.5" height="701" fill="#000"/><rect x="0" y="699.5" width="520" height="1.5" fill="#000"/>
</svg>
</body></html>
